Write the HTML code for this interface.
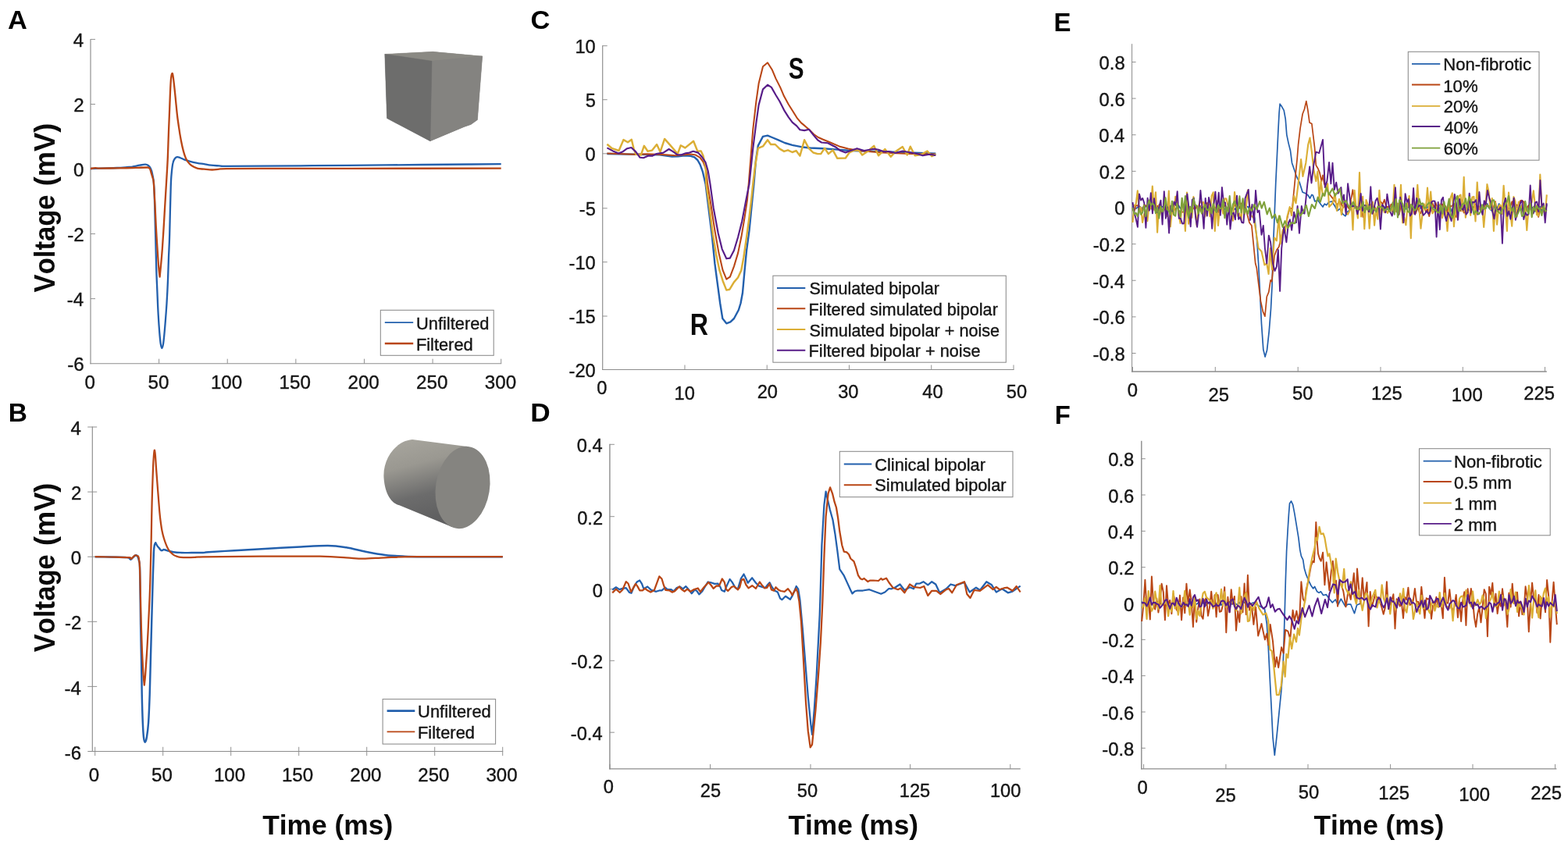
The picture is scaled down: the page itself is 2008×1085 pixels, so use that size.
<!DOCTYPE html>
<html lang="en"><head><meta charset="utf-8"><title>Figure</title>
<style>
html,body{margin:0;padding:0;background:#fff;}
body{width:2008px;height:1085px;overflow:hidden;}
svg{display:block;filter:blur(0.35px);}
text{font-family:"Liberation Sans",Arial,Helvetica,sans-serif;font-kerning:none;}
text.t{stroke:#141414;stroke-width:0.36px;paint-order:stroke;}
</style></head><body>
<svg width="2008" height="1085" viewBox="0 0 2008 1085">
<rect width="2008" height="1085" fill="#ffffff"/>
<line x1="116.00" y1="49.90" x2="116.00" y2="466.25" stroke="#8c8c8c" stroke-width="1.15"/>
<line x1="115.45" y1="465.70" x2="642.20" y2="465.70" stroke="#8c8c8c" stroke-width="1.15"/>
<line x1="116.00" y1="50.40" x2="122.00" y2="50.40" stroke="#8c8c8c" stroke-width="0.95"/>
<text class="t" transform="translate(93.86,60.00) scale(1.0200,1)" font-size="23.7" font-weight="normal" fill="#141414">4</text>
<line x1="116.00" y1="133.46" x2="122.00" y2="133.46" stroke="#8c8c8c" stroke-width="0.95"/>
<text class="t" transform="translate(94.37,143.06) scale(1.0200,1)" font-size="23.7" font-weight="normal" fill="#141414">2</text>
<line x1="116.00" y1="216.52" x2="122.00" y2="216.52" stroke="#8c8c8c" stroke-width="0.95"/>
<text class="t" transform="translate(94.10,226.12) scale(1.0200,1)" font-size="23.7" font-weight="normal" fill="#141414">0</text>
<line x1="116.00" y1="299.58" x2="122.00" y2="299.58" stroke="#8c8c8c" stroke-width="0.95"/>
<text class="t" transform="translate(86.32,309.18) scale(1.0200,1)" font-size="23.7" font-weight="normal" fill="#141414">-2</text>
<line x1="116.00" y1="382.64" x2="122.00" y2="382.64" stroke="#8c8c8c" stroke-width="0.95"/>
<text class="t" transform="translate(85.81,392.24) scale(1.0200,1)" font-size="23.7" font-weight="normal" fill="#141414">-4</text>
<text class="t" transform="translate(86.17,474.90) scale(1.0200,1)" font-size="23.7" font-weight="normal" fill="#141414">-6</text>
<text class="t" transform="translate(108.58,497.80) scale(1.0200,1)" font-size="23.7" font-weight="normal" fill="#141414">0</text>
<line x1="203.62" y1="465.70" x2="203.62" y2="459.70" stroke="#8c8c8c" stroke-width="0.95"/>
<text class="t" transform="translate(189.46,497.80) scale(1.0200,1)" font-size="23.7" font-weight="normal" fill="#141414">50</text>
<line x1="291.23" y1="465.70" x2="291.23" y2="459.70" stroke="#8c8c8c" stroke-width="0.95"/>
<text class="t" transform="translate(269.92,497.80) scale(1.0200,1)" font-size="23.7" font-weight="normal" fill="#141414">100</text>
<line x1="378.85" y1="465.70" x2="378.85" y2="459.70" stroke="#8c8c8c" stroke-width="0.95"/>
<text class="t" transform="translate(357.53,497.80) scale(1.0200,1)" font-size="23.7" font-weight="normal" fill="#141414">150</text>
<line x1="466.47" y1="465.70" x2="466.47" y2="459.70" stroke="#8c8c8c" stroke-width="0.95"/>
<text class="t" transform="translate(445.46,497.80) scale(1.0200,1)" font-size="23.7" font-weight="normal" fill="#141414">200</text>
<line x1="554.08" y1="465.70" x2="554.08" y2="459.70" stroke="#8c8c8c" stroke-width="0.95"/>
<text class="t" transform="translate(533.08,497.80) scale(1.0200,1)" font-size="23.7" font-weight="normal" fill="#141414">250</text>
<line x1="641.70" y1="465.70" x2="641.70" y2="459.70" stroke="#8c8c8c" stroke-width="0.95"/>
<text class="t" transform="translate(620.85,497.80) scale(1.0200,1)" font-size="23.7" font-weight="normal" fill="#141414">300</text>
<path d="M116.0,216.0C118.3,215.9 124.3,215.8 130.0,215.6C135.7,215.4 144.2,215.3 150.0,215.0C155.8,214.7 161.7,214.2 165.0,214.0C168.3,213.8 167.7,213.9 170.0,213.5C172.3,213.1 176.1,212.2 178.8,211.7C181.5,211.2 184.3,210.6 186.2,210.7C188.0,210.8 188.8,211.2 189.9,212.0C191.0,212.8 192.0,213.9 192.9,215.7C193.8,217.5 194.4,218.9 195.1,223.0C195.8,227.1 196.6,227.2 197.3,240.0C198.0,252.8 198.6,282.6 199.1,300.0C199.6,317.4 199.8,331.9 200.2,344.2C200.6,356.5 201.0,363.9 201.4,373.7C201.8,383.5 202.2,394.6 202.7,403.2C203.2,411.8 203.7,419.2 204.2,425.4C204.7,431.5 205.2,436.7 205.7,440.1C206.2,443.5 206.7,446.0 207.3,446.0C207.9,446.0 208.4,444.8 209.1,440.1C209.8,435.4 210.6,426.6 211.3,418.0C212.0,409.4 212.9,398.3 213.5,388.5C214.1,378.7 214.6,368.8 215.0,359.0C215.4,349.2 215.6,339.3 216.0,329.5C216.4,319.7 216.8,314.9 217.2,300.0C217.6,285.1 218.2,253.3 218.7,240.0C219.1,226.7 219.4,225.4 219.9,220.1C220.4,214.8 220.9,211.1 221.6,208.3C222.2,205.5 222.9,204.4 223.8,203.2C224.7,202.0 225.7,201.4 226.8,201.2C227.9,201.0 228.9,201.4 230.5,202.0C232.1,202.6 234.2,203.8 236.4,204.6C238.6,205.4 241.0,206.1 243.7,206.8C246.4,207.5 249.7,208.2 252.6,208.8C255.5,209.4 258.4,209.7 261.4,210.2C264.3,210.7 267.1,211.3 270.3,211.7C273.5,212.1 277.3,212.2 280.6,212.4C283.9,212.6 280.9,212.9 290.0,212.9C299.1,212.9 316.7,212.7 335.0,212.6C353.3,212.5 377.5,212.4 400.0,212.2C422.5,212.0 446.7,211.8 470.0,211.6C493.3,211.4 518.3,211.2 540.0,211.0C561.7,210.8 583.0,210.6 600.0,210.5C617.0,210.4 634.8,210.2 641.7,210.2" fill="none" stroke="#2360ad" stroke-width="2.3" stroke-linejoin="round" stroke-linecap="butt"/>
<path d="M116.0,216.0C117.0,215.9 120.0,215.3 122.0,215.2C124.0,215.1 123.3,215.6 128.0,215.6C132.7,215.6 143.0,215.5 150.0,215.4C157.0,215.3 163.6,215.2 170.0,215.0C176.4,214.8 185.0,214.5 188.4,214.5C191.8,214.5 189.6,214.6 190.2,214.9C190.8,215.2 191.5,215.2 192.1,216.4C192.7,217.6 193.2,220.2 193.8,222.1C194.4,224.0 195.1,226.0 195.6,228.0C196.1,230.0 196.4,228.7 196.8,233.9C197.2,239.1 197.8,249.9 198.3,259.0C198.8,268.1 199.2,278.7 199.7,288.5C200.2,298.3 200.9,309.4 201.5,318.0C202.1,326.6 202.5,334.0 203.0,340.1C203.5,346.2 204.3,352.2 204.6,354.6C204.8,352.2 205.4,346.2 206.0,340.1C206.6,334.0 207.3,326.6 207.9,318.0C208.5,309.4 209.2,298.3 209.8,288.5C210.4,278.7 210.9,268.8 211.5,259.0C212.1,249.2 212.7,239.3 213.3,229.5C213.9,219.7 214.5,210.2 214.9,200.0C215.3,189.8 215.6,178.7 216.0,168.5C216.4,158.3 216.8,148.8 217.2,139.0C217.6,129.2 218.0,116.4 218.4,109.5C218.8,102.6 219.0,100.2 219.4,97.7C219.8,95.2 220.4,93.3 220.9,94.3C221.4,95.3 221.8,98.6 222.4,103.6C223.0,108.6 223.9,117.1 224.6,124.2C225.3,131.3 226.1,140.0 226.8,146.4C227.5,152.8 228.2,156.9 229.0,162.6C229.8,168.2 230.9,175.1 231.9,180.3C232.9,185.5 233.9,189.9 234.9,193.6C235.9,197.3 236.8,200.1 237.8,202.4C238.8,204.7 239.6,206.0 240.8,207.6C242.0,209.2 243.2,210.7 245.2,212.0C247.2,213.3 249.9,214.9 252.6,215.7C255.3,216.5 258.2,216.4 261.4,216.7C264.6,217.0 268.6,217.5 271.8,217.5C275.0,217.5 277.6,216.8 280.6,216.6C283.6,216.4 280.9,216.2 290.0,216.1C299.1,216.0 308.3,215.9 335.0,215.9C361.7,215.9 398.9,215.8 450.0,215.8C501.1,215.8 609.8,215.7 641.7,215.7" fill="none" stroke="#b94615" stroke-width="2.3" stroke-linejoin="round" stroke-linecap="butt"/>
<polygon points="492.8,69.4 554.3,66.3 617.7,72.1 611.4,153.5 603,159.5 594.4,162.4 550.9,180.7 495.6,151.6" fill="#7a7a78"/>
<polygon points="492.8,69.4 554.3,66.3 617.7,72.1 553,78.3" fill="#8a8983" stroke="#8a8983" stroke-width="0.5"/>
<polygon points="553,78.3 617.7,72.1 611.4,153.5 603,159.5 594.4,162.4 550.9,180.7" fill="#848380" stroke="#848380" stroke-width="0.5"/>
<polygon points="492.8,69.4 553,78.3 550.9,180.7 495.6,151.6" fill="#6d6d6c" stroke="#6d6d6c" stroke-width="0.5"/>
<rect x="487.30" y="397.30" width="144.90" height="58.00" fill="#fff" stroke="#8a8a8a" stroke-width="1.05"/>
<line x1="492.80" y1="413.20" x2="529.20" y2="413.20" stroke="#2360ad" stroke-width="1.8"/>
<text class="t" transform="translate(533.01,422.20) scale(1.0304,1)" font-size="21.2" font-weight="normal" fill="#141414">Unfiltered</text>
<line x1="492.80" y1="440.00" x2="529.20" y2="440.00" stroke="#b94615" stroke-width="2.5"/>
<text class="t" transform="translate(532.91,448.60) scale(1.0298,1)" font-size="21.2" font-weight="normal" fill="#141414">Filtered</text>
<text transform="translate(9.94,37.00) scale(1.0127,1)" font-size="34.0" font-weight="bold" fill="#000">A</text>
<text transform="translate(69.90,374.20) rotate(-90)" font-size="36.5" font-weight="bold" fill="#0a0a0a"><tspan x="-0.24" textLength="125.02" lengthAdjust="spacingAndGlyphs">Voltage</tspan> <tspan x="136.00" textLength="80.40" lengthAdjust="spacingAndGlyphs">(mV)</tspan></text>
<line x1="118.30" y1="546.50" x2="118.30" y2="963.00" stroke="#8c8c8c" stroke-width="1.15"/>
<line x1="112.30" y1="962.50" x2="644.20" y2="962.50" stroke="#8c8c8c" stroke-width="1.15"/>
<line x1="112.20" y1="547.00" x2="124.20" y2="547.00" stroke="#8c8c8c" stroke-width="0.95"/>
<text class="t" transform="translate(90.52,557.10) scale(1.0200,1)" font-size="23.6" font-weight="normal" fill="#141414">4</text>
<line x1="112.20" y1="630.10" x2="124.20" y2="630.10" stroke="#8c8c8c" stroke-width="0.95"/>
<text class="t" transform="translate(91.02,640.20) scale(1.0200,1)" font-size="23.6" font-weight="normal" fill="#141414">2</text>
<line x1="112.20" y1="713.20" x2="124.20" y2="713.20" stroke="#8c8c8c" stroke-width="0.95"/>
<text class="t" transform="translate(90.75,723.30) scale(1.0200,1)" font-size="23.6" font-weight="normal" fill="#141414">0</text>
<line x1="112.20" y1="796.30" x2="124.20" y2="796.30" stroke="#8c8c8c" stroke-width="0.95"/>
<text class="t" transform="translate(83.01,806.40) scale(1.0200,1)" font-size="23.6" font-weight="normal" fill="#141414">-2</text>
<line x1="112.20" y1="879.40" x2="124.20" y2="879.40" stroke="#8c8c8c" stroke-width="0.95"/>
<text class="t" transform="translate(82.50,889.50) scale(1.0200,1)" font-size="23.6" font-weight="normal" fill="#141414">-4</text>
<text class="t" transform="translate(82.85,972.60) scale(1.0200,1)" font-size="23.6" font-weight="normal" fill="#141414">-6</text>
<line x1="121.70" y1="956.80" x2="121.70" y2="968.20" stroke="#8c8c8c" stroke-width="0.95"/>
<text class="t" transform="translate(113.81,1000.60) scale(1.0200,1)" font-size="23.6" font-weight="normal" fill="#141414">0</text>
<line x1="208.70" y1="956.80" x2="208.70" y2="968.20" stroke="#8c8c8c" stroke-width="0.95"/>
<text class="t" transform="translate(194.10,1000.60) scale(1.0200,1)" font-size="23.6" font-weight="normal" fill="#141414">50</text>
<line x1="295.70" y1="956.80" x2="295.70" y2="968.20" stroke="#8c8c8c" stroke-width="0.95"/>
<text class="t" transform="translate(273.97,1000.60) scale(1.0200,1)" font-size="23.6" font-weight="normal" fill="#141414">100</text>
<line x1="382.70" y1="956.80" x2="382.70" y2="968.20" stroke="#8c8c8c" stroke-width="0.95"/>
<text class="t" transform="translate(360.97,1000.60) scale(1.0200,1)" font-size="23.6" font-weight="normal" fill="#141414">150</text>
<line x1="469.70" y1="956.80" x2="469.70" y2="968.20" stroke="#8c8c8c" stroke-width="0.95"/>
<text class="t" transform="translate(448.28,1000.60) scale(1.0200,1)" font-size="23.6" font-weight="normal" fill="#141414">200</text>
<line x1="556.70" y1="956.80" x2="556.70" y2="968.20" stroke="#8c8c8c" stroke-width="0.95"/>
<text class="t" transform="translate(535.28,1000.60) scale(1.0200,1)" font-size="23.6" font-weight="normal" fill="#141414">250</text>
<line x1="643.70" y1="956.80" x2="643.70" y2="968.20" stroke="#8c8c8c" stroke-width="0.95"/>
<text class="t" transform="translate(622.43,1000.60) scale(1.0200,1)" font-size="23.6" font-weight="normal" fill="#141414">300</text>
<path d="M121.7,713.2C124.8,713.2 133.6,713.4 140.0,713.5C146.4,713.6 155.8,713.8 160.0,714.0C164.2,714.2 163.8,714.0 165.0,714.5C166.2,715.0 166.4,716.8 167.3,716.7C168.2,716.7 169.2,715.1 170.2,714.2C171.2,713.3 172.2,711.8 173.2,711.5C174.2,711.2 175.3,711.2 176.1,712.5C176.9,713.8 177.6,716.1 178.1,719.0C178.6,721.9 178.8,716.5 179.1,730.0C179.4,743.5 179.8,781.0 180.1,800.0C180.4,819.0 180.7,829.5 181.0,844.2C181.3,859.0 181.4,875.0 181.7,888.5C182.0,902.0 182.4,916.1 182.8,925.4C183.2,934.7 183.5,940.3 184.0,944.5C184.5,948.7 185.0,950.7 185.7,950.7C186.3,950.7 187.2,948.7 187.9,944.5C188.6,940.3 189.5,934.5 190.1,925.4C190.7,916.3 191.2,904.4 191.7,889.7C192.2,875.0 192.6,855.2 193.1,837.2C193.6,819.2 194.1,798.9 194.6,782.0C195.1,765.1 195.5,748.4 195.9,736.0C196.3,723.6 196.6,713.9 196.9,707.6C197.2,701.3 197.4,700.5 197.8,698.4C198.2,696.3 199.0,695.7 199.2,695.2C199.6,695.9 200.7,698.2 201.5,699.4C202.3,700.5 203.0,701.2 203.8,702.1C204.6,703.0 205.5,704.4 206.1,704.9C206.7,705.4 206.9,705.2 207.5,705.1C208.1,705.0 208.9,704.0 209.8,704.0C210.7,704.0 211.7,704.5 213.0,704.9C214.3,705.3 216.0,705.9 217.6,706.3C219.2,706.7 220.0,706.9 222.3,707.2C224.6,707.5 228.4,707.8 231.5,707.9C234.6,708.0 237.6,708.1 240.7,708.1C243.8,708.1 246.7,708.0 249.9,708.0C253.1,708.0 257.2,708.1 260.0,708.0C262.8,707.9 260.0,707.8 266.7,707.3C273.4,706.8 288.6,705.9 300.0,705.2C311.4,704.5 321.7,703.9 335.0,703.2C348.3,702.5 365.8,701.5 380.0,700.8C394.2,700.1 409.4,698.9 420.0,699.0C430.6,699.1 435.2,700.0 443.3,701.3C451.4,702.6 460.0,705.2 468.3,706.8C476.6,708.4 485.0,710.0 493.3,711.0C501.6,712.0 509.7,712.3 518.3,712.7C526.9,713.1 531.4,713.1 545.0,713.2C558.6,713.3 583.5,713.2 600.0,713.2C616.5,713.2 636.5,713.2 643.8,713.2" fill="none" stroke="#2360ad" stroke-width="2.45" stroke-linejoin="round" stroke-linecap="butt"/>
<path d="M121.7,713.2C124.8,713.2 132.8,713.3 140.0,713.5C147.2,713.7 160.4,713.8 165.1,714.2C169.8,714.6 167.2,716.1 168.0,716.0C168.8,715.9 169.3,714.6 170.2,713.8C171.1,713.0 172.2,711.5 173.2,711.3C174.2,711.0 175.4,711.9 176.1,712.3C176.8,712.7 177.0,711.5 177.5,713.9C178.0,716.3 178.6,718.5 179.0,726.8C179.4,735.1 179.6,751.3 179.9,763.6C180.2,775.9 180.4,788.1 180.8,800.4C181.2,812.7 181.6,826.5 182.1,837.2C182.6,847.9 183.1,858.0 183.6,864.8C184.1,871.5 184.6,875.6 184.8,877.7C185.0,875.6 185.6,871.5 186.1,864.8C186.6,858.0 187.3,847.9 188.0,837.2C188.7,826.5 189.4,812.7 190.0,800.4C190.6,788.1 191.2,775.9 191.7,763.6C192.2,751.3 192.5,739.1 192.8,726.8C193.1,714.5 193.4,703.9 193.7,690.0C194.0,676.1 194.2,658.8 194.6,643.7C195.0,628.6 195.6,609.8 196.0,599.5C196.4,589.2 196.8,585.6 197.1,581.8C197.4,578.0 197.7,576.4 198.0,576.6C198.3,576.9 198.5,579.0 198.9,583.3C199.3,587.6 199.6,594.8 200.2,602.4C200.8,610.0 201.5,620.3 202.2,629.0C202.9,637.7 203.6,647.6 204.2,654.5C204.8,661.4 205.4,666.2 206.0,670.5C206.6,674.8 206.9,676.9 207.5,680.0C208.1,683.1 208.9,686.1 209.8,689.2C210.7,692.3 212.0,695.9 213.0,698.4C214.0,700.9 214.9,702.5 215.8,704.0C216.7,705.5 217.5,706.5 218.6,707.6C219.7,708.8 220.9,710.0 222.3,710.9C223.7,711.8 225.4,712.4 226.9,712.9C228.4,713.4 229.2,713.7 231.5,713.9C233.8,714.1 237.6,714.1 240.7,714.1C243.8,714.1 246.7,714.0 249.9,713.9C253.1,713.8 245.8,713.5 260.0,713.3C274.2,713.1 310.0,712.8 335.0,712.7C360.0,712.6 391.9,712.4 410.0,712.7C428.1,713.0 434.1,713.8 443.3,714.3C452.5,714.8 456.7,715.7 465.0,715.7C473.3,715.7 483.0,714.7 493.3,714.3C503.6,713.9 508.9,713.4 526.7,713.2C544.5,713.0 580.5,713.2 600.0,713.2C619.5,713.2 636.5,713.2 643.8,713.2" fill="none" stroke="#b94615" stroke-width="2.25" stroke-linejoin="round" stroke-linecap="butt"/>
<defs><linearGradient id="cg" x1="0" y1="0" x2="0.25" y2="1"><stop offset="0" stop-color="#a9a79f"/><stop offset="0.35" stop-color="#9a9891"/><stop offset="0.7" stop-color="#6c6c6c"/><stop offset="1" stop-color="#5f5f60"/></linearGradient></defs>
<path d="M528,563 C506,565 490,588 491.5,612 C493,634 502,645 511.5,647.3 L578.8,675.1 L592,625 L600.1,572.3 Z" fill="url(#cg)"/>
<ellipse cx="592.5" cy="624.5" rx="34.5" ry="53" transform="rotate(9 592.5 624.5)" fill="#858480"/>
<rect x="490.10" y="895.60" width="144.50" height="57.50" fill="#fff" stroke="#8a8a8a" stroke-width="1.05"/>
<line x1="495.60" y1="910.70" x2="531.30" y2="910.70" stroke="#2360ad" stroke-width="2.7"/>
<text class="t" transform="translate(535.11,919.30) scale(1.0327,1)" font-size="21.2" font-weight="normal" fill="#141414">Unfiltered</text>
<line x1="495.60" y1="937.40" x2="531.30" y2="937.40" stroke="#b94615" stroke-width="1.8"/>
<text class="t" transform="translate(535.00,946.00) scale(1.0328,1)" font-size="21.2" font-weight="normal" fill="#141414">Filtered</text>
<text transform="translate(10.76,540.00) scale(0.9838,1)" font-size="34.0" font-weight="bold" fill="#000">B</text>
<text transform="translate(69.90,835.00) rotate(-90)" font-size="36.5" font-weight="bold" fill="#0a0a0a"><tspan x="-0.24" textLength="125.02" lengthAdjust="spacingAndGlyphs">Voltage</tspan> <tspan x="136.00" textLength="80.40" lengthAdjust="spacingAndGlyphs">(mV)</tspan></text>
<text transform="translate(336.20,1069.20) scale(1.0048,1)" font-size="35.2" font-weight="bold" fill="#0a0a0a">Time (ms)</text>
<line x1="771.70" y1="58.20" x2="771.70" y2="474.05" stroke="#8c8c8c" stroke-width="1.15"/>
<line x1="771.15" y1="473.50" x2="1298.50" y2="473.50" stroke="#8c8c8c" stroke-width="1.15"/>
<line x1="771.70" y1="58.70" x2="777.70" y2="58.70" stroke="#8c8c8c" stroke-width="0.95"/>
<text class="t" transform="translate(736.40,68.00) scale(1.0200,1)" font-size="23.2" font-weight="normal" fill="#141414">10</text>
<line x1="771.70" y1="127.70" x2="777.70" y2="127.70" stroke="#8c8c8c" stroke-width="0.95"/>
<text class="t" transform="translate(749.63,137.00) scale(1.0200,1)" font-size="23.2" font-weight="normal" fill="#141414">5</text>
<line x1="771.70" y1="196.80" x2="777.70" y2="196.80" stroke="#8c8c8c" stroke-width="0.95"/>
<text class="t" transform="translate(749.56,206.10) scale(1.0200,1)" font-size="23.2" font-weight="normal" fill="#141414">0</text>
<line x1="771.70" y1="266.80" x2="777.70" y2="266.80" stroke="#8c8c8c" stroke-width="0.95"/>
<text class="t" transform="translate(741.75,276.10) scale(1.0200,1)" font-size="23.2" font-weight="normal" fill="#141414">-5</text>
<line x1="771.70" y1="335.70" x2="777.70" y2="335.70" stroke="#8c8c8c" stroke-width="0.95"/>
<text class="t" transform="translate(728.52,345.00) scale(1.0200,1)" font-size="23.2" font-weight="normal" fill="#141414">-10</text>
<line x1="771.70" y1="405.00" x2="777.70" y2="405.00" stroke="#8c8c8c" stroke-width="0.95"/>
<text class="t" transform="translate(728.59,414.30) scale(1.0200,1)" font-size="23.2" font-weight="normal" fill="#141414">-15</text>
<text class="t" transform="translate(728.52,482.80) scale(1.0200,1)" font-size="23.2" font-weight="normal" fill="#141414">-20</text>
<text class="t" transform="translate(764.22,505.30) scale(1.0200,1)" font-size="23.2" font-weight="normal" fill="#141414">0</text>
<line x1="876.96" y1="473.50" x2="876.96" y2="467.50" stroke="#8c8c8c" stroke-width="0.95"/>
<text class="t" transform="translate(863.60,512.00) scale(1.0200,1)" font-size="23.2" font-weight="normal" fill="#141414">10</text>
<line x1="982.22" y1="473.50" x2="982.22" y2="467.50" stroke="#8c8c8c" stroke-width="0.95"/>
<text class="t" transform="translate(969.71,510.00) scale(1.0200,1)" font-size="23.2" font-weight="normal" fill="#141414">20</text>
<line x1="1087.48" y1="473.50" x2="1087.48" y2="467.50" stroke="#8c8c8c" stroke-width="0.95"/>
<text class="t" transform="translate(1073.15,510.00) scale(1.0200,1)" font-size="23.2" font-weight="normal" fill="#141414">30</text>
<line x1="1192.74" y1="473.50" x2="1192.74" y2="467.50" stroke="#8c8c8c" stroke-width="0.95"/>
<text class="t" transform="translate(1181.23,510.00) scale(1.0200,1)" font-size="23.2" font-weight="normal" fill="#141414">40</text>
<line x1="1298.00" y1="473.50" x2="1298.00" y2="467.50" stroke="#8c8c8c" stroke-width="0.95"/>
<text class="t" transform="translate(1288.83,510.00) scale(1.0200,1)" font-size="23.2" font-weight="normal" fill="#141414">50</text>
<polyline points="777.4,197.0 844.7,198.4 860.6,200.6 868.6,200.2 876.6,199.2 884.5,199.8 889.3,201.4 893.3,205.0 896.5,210.6 899.7,219.3 903.6,236.0 907.8,269.9 912.0,303.8 915.4,337.7 918.8,363.1 922.2,388.5 925.3,408.0 930.3,414.3 935.4,412.3 940.0,408.0 945.9,397.0 948.5,388.5 951.0,375.0 953.6,346.2 956.1,320.7 959.5,295.3 962.0,269.9 965.4,236.0 968.0,205.0 970.8,186.6 977.0,174.9 983.0,173.6 988.7,176.0 996.8,179.3 1004.9,183.0 1014.6,185.8 1026.0,188.2 1037.4,189.5 1053.6,190.3 1069.8,191.4 1086.0,192.7 1100.0,193.2 1150.0,195.0 1198.3,196.6" fill="none" stroke="#2360ad" stroke-width="2.4" stroke-linejoin="round" stroke-linecap="butt"/>
<polyline points="777.4,196.6 812.8,197.7 828.7,197.2 852.6,198.2 864.6,199.2 876.6,198.2 884.5,197.6 890.9,198.6 896.5,201.8 900.5,207.4 904.4,217.7 906.1,236.0 910.3,261.4 915.4,295.3 920.5,324.1 925.6,346.2 930.3,357.7 934.9,354.6 940.0,341.1 945.1,324.1 949.3,303.8 953.6,278.4 956.9,256.3 958.7,236.0 961.1,206.0 964.3,165.5 968.4,129.8 971.6,107.1 977.0,85.2 983.0,80.3 988.7,89.2 993.5,100.6 999.2,111.9 1004.1,123.3 1009.8,133.8 1015.5,142.8 1021.1,151.7 1026.0,157.4 1030.9,161.4 1036.5,166.3 1042.2,172.0 1047.9,176.0 1053.6,178.5 1063.3,182.5 1074.7,187.4 1086.0,190.6 1100.0,193.1 1130.0,195.5 1165.0,197.0 1198.3,197.5" fill="none" stroke="#b94615" stroke-width="2.05" stroke-linejoin="round" stroke-linecap="butt"/>
<polyline points="777.4,184.7 783.3,189.8 792.5,193.0 798.5,179.1 804.0,182.3 808.8,178.8 811.6,190.6 814.4,197.8 820.8,198.6 824.8,186.8 829.5,193.8 835.1,192.6 841.1,185.1 845.5,194.6 851.1,177.9 858.2,185.9 867.8,197.0 871.8,186.3 877.4,189.4 888.1,180.7 893.3,193.8 897.7,193.4 900.5,199.4 903.6,213.7 904.4,236.0 908.6,266.5 912.9,300.4 917.1,325.8 921.4,346.2 925.6,359.7 930.3,371.6 934.4,370.7 940.0,361.4 945.1,355.5 949.3,346.2 952.4,329.2 956.1,303.8 959.5,278.4 962.5,252.9 964.3,236.0 966.8,214.2 970.8,189.8 977.0,187.4 983.0,179.3 987.1,185.0 992.7,185.0 998.4,190.6 1004.1,193.9 1009.0,192.3 1014.6,195.0 1019.5,193.1 1024.4,199.6 1030.1,179.3 1035.7,189.8 1041.4,195.5 1047.1,197.1 1051.2,197.1 1056.0,189.8 1060.9,197.1 1066.6,192.3 1072.3,202.8 1082.8,202.5 1087.7,195.5 1094.2,192.3 1100.0,192.7 1104.2,198.5 1111.7,193.5 1119.2,186.8 1125.0,199.3 1133.3,191.0 1140.8,200.7 1146.7,194.3 1155.8,188.0 1161.7,198.5 1165.8,187.7 1171.7,199.3 1180.0,197.7 1187.5,193.5 1193.3,200.2 1198.3,197.7" fill="none" stroke="#dbae35" stroke-width="2.45" stroke-linejoin="round" stroke-linecap="butt"/>
<polyline points="777.4,189.4 784.9,193.4 792.1,196.5 797.7,194.2 803.2,190.2 808.4,189.0 814.4,194.6 819.6,201.8 824.0,202.2 830.3,199.4 835.1,199.8 840.7,197.0 849.5,195.6 856.6,191.0 861.8,194.2 867.4,198.2 872.6,198.2 878.1,196.2 882.9,195.6 887.7,193.8 894.1,195.6 898.9,201.0 903.6,208.2 906.8,219.3 909.5,236.0 913.7,266.5 919.7,298.7 924.7,319.1 930.3,331.3 934.9,330.6 940.0,320.7 945.1,303.8 950.2,283.5 954.4,261.4 958.6,240.0 959.5,236.0 964.3,189.8 968.4,157.4 971.6,134.6 977.0,114.4 983.0,108.7 987.9,111.9 993.5,121.7 998.4,129.8 1004.1,141.1 1009.8,150.1 1014.6,156.6 1020.3,161.4 1024.4,166.3 1030.1,167.1 1036.1,165.8 1042.2,173.6 1047.1,179.3 1052.0,182.5 1060.1,183.3 1069.8,188.2 1076.3,193.1 1082.8,195.5 1089.3,193.1 1097.5,190.2 1106.7,193.0 1119.2,190.7 1125.0,191.8 1131.7,194.3 1138.3,194.0 1146.7,196.0 1155.8,193.5 1165.0,195.2 1173.3,196.8 1181.7,199.3 1190.0,197.7 1198.3,199.0" fill="none" stroke="#571c88" stroke-width="2.15" stroke-linejoin="round" stroke-linecap="butt"/>
<rect x="989.90" y="353.20" width="298.40" height="111.00" fill="#fff" stroke="#8a8a8a" stroke-width="1.05"/>
<line x1="995.00" y1="369.00" x2="1031.30" y2="369.00" stroke="#2360ad" stroke-width="2.0"/>
<text class="t" transform="translate(1036.42,377.30) scale(1.0167,1)" font-size="21.2" font-weight="normal" fill="#141414">Simulated bipolar</text>
<line x1="995.00" y1="395.30" x2="1031.30" y2="395.30" stroke="#b94615" stroke-width="2.0"/>
<text class="t" transform="translate(1035.62,404.00) scale(1.0232,1)" font-size="21.2" font-weight="normal" fill="#141414">Filtered simulated bipolar</text>
<line x1="995.00" y1="422.00" x2="1031.30" y2="422.00" stroke="#dbae35" stroke-width="2.0"/>
<text class="t" transform="translate(1036.42,430.70) scale(1.0218,1)" font-size="21.2" font-weight="normal" fill="#141414">Simulated bipolar + noise</text>
<line x1="995.00" y1="448.70" x2="1031.30" y2="448.70" stroke="#571c88" stroke-width="2.0"/>
<text class="t" transform="translate(1035.62,457.30) scale(1.0227,1)" font-size="21.2" font-weight="normal" fill="#141414">Filtered bipolar + noise</text>
<text transform="translate(679.39,37.30) scale(1.0122,1)" font-size="34.0" font-weight="bold" fill="#000">C</text>
<text transform="translate(883.75,428.90) scale(0.8413,1)" font-size="38.2" font-weight="bold" fill="#0a0a0a">R</text>
<text transform="translate(1009.64,101.20) scale(0.7818,1)" font-size="38.0" font-weight="bold" fill="#0a0a0a">S</text>
<line x1="780.90" y1="568.80" x2="780.90" y2="985.50" stroke="#8c8c8c" stroke-width="1.4"/>
<line x1="780.20" y1="984.90" x2="1306.80" y2="984.90" stroke="#8c8c8c" stroke-width="1.15"/>
<line x1="780.90" y1="569.30" x2="786.90" y2="569.30" stroke="#8c8c8c" stroke-width="0.95"/>
<text class="t" transform="translate(738.70,579.10) scale(1.0200,1)" font-size="23.2" font-weight="normal" fill="#141414">0.4</text>
<line x1="780.90" y1="661.70" x2="786.90" y2="661.70" stroke="#8c8c8c" stroke-width="0.95"/>
<text class="t" transform="translate(739.19,671.50) scale(1.0200,1)" font-size="23.2" font-weight="normal" fill="#141414">0.2</text>
<line x1="780.90" y1="754.70" x2="786.90" y2="754.70" stroke="#8c8c8c" stroke-width="0.95"/>
<text class="t" transform="translate(758.66,764.50) scale(1.0200,1)" font-size="23.2" font-weight="normal" fill="#141414">0</text>
<line x1="780.90" y1="846.30" x2="786.90" y2="846.30" stroke="#8c8c8c" stroke-width="0.95"/>
<text class="t" transform="translate(731.31,856.10) scale(1.0200,1)" font-size="23.2" font-weight="normal" fill="#141414">-0.2</text>
<line x1="780.90" y1="938.20" x2="786.90" y2="938.20" stroke="#8c8c8c" stroke-width="0.95"/>
<text class="t" transform="translate(730.82,948.00) scale(1.0200,1)" font-size="23.2" font-weight="normal" fill="#141414">-0.4</text>
<line x1="781.00" y1="984.90" x2="781.00" y2="978.90" stroke="#8c8c8c" stroke-width="0.95"/>
<text class="t" transform="translate(772.82,1016.00) scale(1.0200,1)" font-size="23.2" font-weight="normal" fill="#141414">0</text>
<line x1="909.50" y1="984.90" x2="909.50" y2="978.90" stroke="#8c8c8c" stroke-width="0.95"/>
<text class="t" transform="translate(896.74,1021.20) scale(1.0200,1)" font-size="23.2" font-weight="normal" fill="#141414">25</text>
<line x1="1038.00" y1="984.90" x2="1038.00" y2="978.90" stroke="#8c8c8c" stroke-width="0.95"/>
<text class="t" transform="translate(1020.73,1021.20) scale(1.0200,1)" font-size="23.2" font-weight="normal" fill="#141414">50</text>
<line x1="1165.60" y1="984.90" x2="1165.60" y2="978.90" stroke="#8c8c8c" stroke-width="0.95"/>
<text class="t" transform="translate(1151.75,1021.20) scale(1.0200,1)" font-size="23.2" font-weight="normal" fill="#141414">125</text>
<line x1="1293.80" y1="984.90" x2="1293.80" y2="978.90" stroke="#8c8c8c" stroke-width="0.95"/>
<text class="t" transform="translate(1267.92,1021.20) scale(1.0200,1)" font-size="23.2" font-weight="normal" fill="#141414">100</text>
<polyline points="784.2,755.5 788.9,752.3 793.3,755.1 797.3,753.9 801.7,753.1 806.1,759.0 808.5,759.8 811.7,751.9 815.6,745.5 819.2,743.5 822.0,747.9 824.4,754.3 829.2,751.5 834.0,755.9 840.3,757.8 845.1,756.3 847.5,756.3 851.9,752.7 854.7,755.1 859.5,755.1 862.6,757.5 866.6,753.1 870.6,751.5 874.6,754.3 878.2,751.1 881.8,755.1 885.8,760.2 889.7,755.5 892.1,756.7 895.3,761.4 899.3,757.5 906.5,745.5 910.5,746.3 915.2,747.9 919.2,747.5 922.4,751.9 924.0,755.9 927.8,757.8 930.6,750.6 934.6,741.9 937.7,745.9 941.7,753.0 944.9,754.6 948.9,741.1 952.5,735.5 955.7,741.9 957.7,746.7 963.2,740.3 968.0,746.7 972.0,750.6 976.0,751.8 980.0,753.0 982.4,749.8 985.6,746.3 988.7,752.2 991.9,756.6 995.9,758.6 999.1,766.6 1001.5,768.2 1005.9,763.8 1011.9,767.8 1015.0,762.6 1019.8,751.0 1022.2,754.6 1024.0,765.8 1024.6,770.0 1027.8,805.0 1031.3,848.8 1034.8,892.6 1038.3,927.6 1040.0,940.8 1042.7,910.1 1045.6,866.3 1047.9,822.5 1049.7,787.5 1050.3,770.0 1052.4,698.5 1055.4,646.9 1057.6,629.6 1059.8,639.5 1062.8,652.8 1066.5,666.0 1069.4,683.7 1072.4,705.9 1075.3,729.2 1080.5,736.8 1085.6,747.9 1089.3,756.0 1091.5,760.4 1094.5,757.5 1098.2,756.5 1105.0,756.5 1113.3,755.2 1120.0,757.7 1128.3,760.7 1133.3,758.5 1138.3,754.0 1141.7,754.3 1146.7,752.3 1152.5,748.5 1158.3,756.0 1165.0,752.3 1170.0,754.3 1173.3,747.7 1178.3,747.3 1182.5,745.2 1188.3,749.3 1193.3,745.2 1198.3,748.5 1203.3,759.3 1211.7,754.3 1217.5,748.5 1223.3,750.2 1235.0,746.0 1241.7,758.5 1250.0,752.7 1255.0,756.0 1263.3,745.2 1270.0,749.3 1275.8,758.5 1283.3,754.3 1290.8,759.3 1296.7,757.7 1306.7,750.7" fill="none" stroke="#2360ad" stroke-width="2.25" stroke-linejoin="round" stroke-linecap="butt"/>
<polyline points="784.2,759.4 788.9,754.7 793.7,759.0 797.3,755.5 801.7,745.1 804.5,747.5 808.1,758.2 814.0,747.9 816.4,751.1 819.2,756.3 822.8,756.3 826.0,753.9 829.2,756.3 833.2,758.6 837.9,755.9 841.1,747.1 844.3,738.3 847.5,741.5 849.9,749.5 852.3,755.9 857.1,756.3 860.7,758.6 864.2,757.1 869.8,751.5 873.0,755.1 876.6,757.5 880.2,754.7 884.2,757.8 888.9,755.1 893.7,753.5 896.9,758.2 901.7,751.9 907.3,745.9 910.5,749.5 913.6,753.9 917.6,750.3 920.8,750.7 924.8,741.5 927.8,745.9 929.8,754.6 932.2,757.0 937.0,751.8 940.1,751.0 944.9,755.4 947.3,752.2 949.7,742.7 952.5,741.9 955.3,749.0 958.5,753.4 963.2,750.2 968.0,753.8 972.8,745.5 976.0,749.8 979.2,753.4 982.0,753.0 985.6,747.8 987.9,755.4 991.1,756.6 993.5,752.2 996.7,755.4 999.9,757.0 1004.7,757.8 1009.1,754.2 1012.6,758.6 1014.6,762.6 1016.6,758.6 1019.4,754.2 1021.4,758.6 1022.6,765.8 1023.4,770.0 1026.0,796.3 1028.6,840.0 1032.1,901.3 1034.8,936.4 1037.7,957.4 1040.0,953.9 1044.4,910.1 1047.9,866.3 1050.9,822.5 1052.6,787.5 1053.4,770.0 1055.4,713.2 1057.6,661.6 1060.6,632.1 1063.1,624.3 1066.0,632.1 1068.7,643.2 1070.9,649.8 1073.1,663.1 1075.3,680.8 1078.3,698.5 1080.8,706.6 1084.2,707.3 1087.1,710.3 1089.3,715.5 1093.5,719.1 1096.0,726.5 1098.9,736.8 1101.9,741.3 1104.1,742.3 1106.7,741.0 1108.5,742.7 1111.4,745.0 1114.4,743.5 1118.3,743.5 1125.0,744.0 1128.3,741.0 1130.0,742.7 1135.0,740.7 1138.3,746.0 1143.3,752.7 1150.0,755.2 1153.3,753.5 1158.3,759.3 1165.0,748.5 1170.0,751.8 1178.3,753.0 1183.3,751.0 1188.3,763.0 1193.3,756.8 1199.2,756.8 1204.2,761.0 1211.7,755.2 1215.0,754.0 1219.2,759.3 1225.0,749.3 1235.0,745.2 1238.3,761.0 1242.5,766.0 1247.5,756.0 1255.0,756.8 1265.0,749.3 1271.7,755.2 1275.8,751.8 1280.0,755.2 1286.7,753.0 1290.0,752.7 1296.7,756.8 1301.7,751.0 1306.7,758.5" fill="none" stroke="#b94615" stroke-width="2.25" stroke-linejoin="round" stroke-linecap="butt"/>
<rect x="1075.30" y="578.30" width="221.70" height="58.40" fill="#fff" stroke="#8a8a8a" stroke-width="1.05"/>
<line x1="1080.80" y1="594.50" x2="1116.30" y2="594.50" stroke="#2360ad" stroke-width="2.0"/>
<text class="t" transform="translate(1120.19,602.50) scale(1.0291,1)" font-size="21.2" font-weight="normal" fill="#141414">Clinical bipolar</text>
<line x1="1080.80" y1="621.20" x2="1116.30" y2="621.20" stroke="#b94615" stroke-width="2.0"/>
<text class="t" transform="translate(1120.31,629.20) scale(1.0278,1)" font-size="21.2" font-weight="normal" fill="#141414">Simulated bipolar</text>
<text transform="translate(679.34,540.00) scale(1.0359,1)" font-size="34.0" font-weight="bold" fill="#000">D</text>
<text transform="translate(1009.50,1069.00) scale(1.0018,1)" font-size="35.2" font-weight="bold" fill="#0a0a0a">Time (ms)</text>
<line x1="1449.60" y1="56.20" x2="1449.60" y2="476.60" stroke="#8c8c8c" stroke-width="1.0"/>
<line x1="1449.10" y1="476.00" x2="1980.80" y2="476.00" stroke="#8c8c8c" stroke-width="1.3"/>
<line x1="1449.60" y1="79.48" x2="1454.60" y2="79.48" stroke="#8c8c8c" stroke-width="0.95"/>
<text class="t" transform="translate(1407.56,88.88) scale(1.0200,1)" font-size="23.4" font-weight="normal" fill="#141414">0.8</text>
<line x1="1449.60" y1="126.11" x2="1454.60" y2="126.11" stroke="#8c8c8c" stroke-width="0.95"/>
<text class="t" transform="translate(1407.57,135.51) scale(1.0200,1)" font-size="23.4" font-weight="normal" fill="#141414">0.6</text>
<line x1="1449.60" y1="172.74" x2="1454.60" y2="172.74" stroke="#8c8c8c" stroke-width="0.95"/>
<text class="t" transform="translate(1407.22,182.14) scale(1.0200,1)" font-size="23.4" font-weight="normal" fill="#141414">0.4</text>
<line x1="1449.60" y1="219.37" x2="1454.60" y2="219.37" stroke="#8c8c8c" stroke-width="0.95"/>
<text class="t" transform="translate(1407.72,228.77) scale(1.0200,1)" font-size="23.4" font-weight="normal" fill="#141414">0.2</text>
<line x1="1449.60" y1="266.00" x2="1454.60" y2="266.00" stroke="#8c8c8c" stroke-width="0.95"/>
<text class="t" transform="translate(1427.36,275.40) scale(1.0200,1)" font-size="23.4" font-weight="normal" fill="#141414">0</text>
<line x1="1449.60" y1="312.63" x2="1454.60" y2="312.63" stroke="#8c8c8c" stroke-width="0.95"/>
<text class="t" transform="translate(1399.77,322.03) scale(1.0200,1)" font-size="23.4" font-weight="normal" fill="#141414">-0.2</text>
<line x1="1449.60" y1="359.26" x2="1454.60" y2="359.26" stroke="#8c8c8c" stroke-width="0.95"/>
<text class="t" transform="translate(1399.27,368.66) scale(1.0200,1)" font-size="23.4" font-weight="normal" fill="#141414">-0.4</text>
<line x1="1449.60" y1="405.89" x2="1454.60" y2="405.89" stroke="#8c8c8c" stroke-width="0.95"/>
<text class="t" transform="translate(1399.62,415.29) scale(1.0200,1)" font-size="23.4" font-weight="normal" fill="#141414">-0.6</text>
<line x1="1449.60" y1="452.52" x2="1454.60" y2="452.52" stroke="#8c8c8c" stroke-width="0.95"/>
<text class="t" transform="translate(1399.61,461.92) scale(1.0200,1)" font-size="23.4" font-weight="normal" fill="#141414">-0.8</text>
<line x1="1450.50" y1="476.00" x2="1450.50" y2="470.00" stroke="#8c8c8c" stroke-width="0.95"/>
<text class="t" transform="translate(1443.86,507.80) scale(1.0200,1)" font-size="23.4" font-weight="normal" fill="#141414">0</text>
<line x1="1556.30" y1="476.00" x2="1556.30" y2="470.00" stroke="#8c8c8c" stroke-width="0.95"/>
<text class="t" transform="translate(1547.43,514.00) scale(1.0200,1)" font-size="23.4" font-weight="normal" fill="#141414">25</text>
<line x1="1662.20" y1="476.00" x2="1662.20" y2="470.00" stroke="#8c8c8c" stroke-width="0.95"/>
<text class="t" transform="translate(1654.91,512.00) scale(1.0200,1)" font-size="23.4" font-weight="normal" fill="#141414">50</text>
<line x1="1768.00" y1="476.00" x2="1768.00" y2="470.00" stroke="#8c8c8c" stroke-width="0.95"/>
<text class="t" transform="translate(1755.98,512.00) scale(1.0200,1)" font-size="23.4" font-weight="normal" fill="#141414">125</text>
<line x1="1873.30" y1="476.00" x2="1873.30" y2="470.00" stroke="#8c8c8c" stroke-width="0.95"/>
<text class="t" transform="translate(1858.85,514.00) scale(1.0200,1)" font-size="23.4" font-weight="normal" fill="#141414">100</text>
<line x1="1978.50" y1="476.00" x2="1978.50" y2="470.00" stroke="#8c8c8c" stroke-width="0.95"/>
<text class="t" transform="translate(1951.29,512.00) scale(1.0200,1)" font-size="23.4" font-weight="normal" fill="#141414">225</text>
<polyline points="1450.5,264.2 1452.6,266.6 1454.7,267.5 1456.8,265.2 1458.9,264.0 1461.0,265.9 1463.1,266.7 1465.2,267.6 1467.3,264.2 1469.4,264.1 1471.6,267.1 1473.7,266.7 1475.8,268.3 1477.9,267.5 1480.0,265.8 1482.1,265.6 1484.2,269.9 1486.3,265.6 1488.4,264.8 1490.5,264.3 1492.6,266.1 1494.7,266.2 1496.8,265.5 1498.9,265.9 1501.0,266.4 1503.1,267.0 1505.2,267.6 1507.3,266.3 1509.5,263.3 1511.6,267.1 1513.7,263.9 1515.8,265.7 1517.9,263.8 1520.0,266.0 1522.1,264.8 1524.2,266.3 1526.3,271.0 1528.4,265.9 1530.5,267.3 1532.6,264.0 1534.7,265.6 1536.8,267.0 1538.9,265.9 1541.0,266.6 1543.1,266.2 1545.2,264.5 1547.4,266.8 1549.5,264.8 1551.6,268.8 1553.7,265.2 1555.8,267.0 1557.9,266.0 1560.0,267.4 1562.1,265.1 1564.2,267.5 1566.3,265.8 1568.4,267.9 1570.5,266.9 1572.6,266.2 1574.7,264.8 1576.8,267.2 1578.9,266.7 1581.0,268.5 1583.1,265.4 1585.3,266.8 1587.4,266.8 1589.5,266.4 1591.6,266.3 1593.7,266.3 1595.8,265.1 1597.9,264.5 1600.0,268.0 1603.0,265.0 1606.8,279.4 1609.7,308.4 1611.6,337.5 1613.6,376.2 1615.5,414.9 1617.8,447.8 1620.1,457.1 1622.5,448.8 1625.2,424.6 1627.5,395.6 1629.0,366.5 1630.4,318.1 1632.0,279.4 1633.7,235.3 1635.2,204.0 1636.8,169.5 1638.1,144.5 1639.1,133.2 1641.5,136.6 1644.2,141.3 1646.2,152.3 1647.8,172.6 1650.1,183.6 1652.5,193.0 1654.5,208.7 1657.2,216.5 1660.3,225.9 1664.2,233.7 1668.1,246.2 1672.0,247.8 1675.2,250.2 1677.5,254.1 1679.9,249.4 1681.4,250.2 1683.8,258.0 1687.7,256.4 1691.6,261.9 1694.0,265.0 1696.3,261.1 1698.7,262.7 1701.8,258.8 1705.7,258.0 1709.6,264.2 1712.8,269.7 1715.9,267.4 1719.8,274.4 1722.9,276.8 1726.0,271.0 1730.0,268.0 1732.1,262.4 1734.2,266.6 1736.3,265.3 1738.4,264.8 1740.5,268.4 1742.7,266.2 1744.8,265.3 1746.9,270.5 1749.0,264.8 1751.1,262.8 1753.2,262.6 1755.3,264.7 1757.4,267.6 1759.5,268.1 1761.6,268.8 1763.7,270.6 1765.8,270.3 1767.9,267.7 1770.1,269.4 1772.2,267.7 1774.3,264.7 1776.4,268.2 1778.5,266.3 1780.6,265.6 1782.7,271.0 1784.8,268.1 1786.9,264.9 1789.0,265.9 1791.1,271.0 1793.2,265.5 1795.3,268.0 1797.4,267.7 1799.6,267.4 1801.7,267.6 1803.8,264.9 1805.9,265.0 1808.0,265.7 1810.1,265.2 1812.2,268.2 1814.3,270.0 1816.4,263.9 1818.5,267.5 1820.6,263.7 1822.7,264.4 1824.8,265.5 1827.0,266.4 1829.1,265.0 1831.2,261.0 1833.3,269.6 1835.4,265.5 1837.5,264.5 1839.6,267.9 1841.7,264.6 1843.8,262.5 1845.9,267.4 1848.0,267.2 1850.1,264.0 1852.2,268.3 1854.4,267.1 1856.5,263.3 1858.6,270.6 1860.7,266.8 1862.8,263.3 1864.9,267.3 1867.0,266.5 1869.1,268.6 1871.2,262.7 1873.3,268.8 1875.4,268.5 1877.5,267.9 1879.6,267.7 1881.7,269.5 1883.9,268.0 1886.0,266.5 1888.1,264.0 1890.2,269.0 1892.3,268.6 1894.4,266.9 1896.5,266.5 1898.6,268.0 1900.7,261.0 1902.8,266.9 1904.9,261.0 1907.0,266.7 1909.1,268.8 1911.3,270.9 1913.4,264.9 1915.5,267.2 1917.6,265.9 1919.7,261.0 1921.8,268.0 1923.9,266.1 1926.0,266.3 1928.1,263.7 1930.2,266.0 1932.3,266.3 1934.4,269.4 1936.5,266.9 1938.7,271.0 1940.8,265.1 1942.9,265.5 1945.0,266.0 1947.1,264.1 1949.2,270.0 1951.3,267.8 1953.4,262.9 1955.5,266.4 1957.6,269.0 1959.7,262.5 1961.8,266.5 1963.9,265.5 1966.0,271.0 1968.2,267.2 1970.3,265.1 1972.4,264.7 1974.5,270.9 1976.6,264.9 1978.7,271.0 1980.8,262.2" fill="none" stroke="#2360ad" stroke-width="1.7" stroke-linejoin="round" stroke-linecap="butt"/>
<polyline points="1450.5,268.7 1452.6,270.6 1454.7,263.4 1456.8,263.0 1458.9,267.3 1461.0,272.1 1463.2,267.5 1465.3,262.1 1467.4,263.4 1469.5,265.9 1471.6,269.4 1473.7,266.1 1475.8,264.9 1477.9,265.3 1480.0,266.7 1482.1,263.6 1484.2,266.1 1486.3,267.0 1488.5,271.7 1490.6,265.9 1492.7,269.4 1494.8,262.6 1496.9,269.1 1499.0,266.7 1501.1,264.3 1503.2,266.0 1505.3,269.2 1507.4,265.0 1509.5,269.6 1511.6,271.3 1513.8,271.7 1515.9,271.7 1518.0,261.8 1520.1,267.3 1522.2,263.8 1524.3,269.4 1526.4,266.4 1528.5,266.9 1530.6,267.7 1532.7,264.1 1534.8,266.5 1537.0,263.6 1539.1,273.3 1541.2,264.6 1543.3,266.2 1545.4,260.1 1547.5,261.1 1549.6,263.2 1551.7,268.9 1553.8,268.8 1555.9,267.1 1558.0,263.9 1560.1,272.5 1562.3,262.6 1564.4,263.2 1566.5,267.8 1568.6,262.7 1570.7,267.0 1572.8,269.5 1574.9,265.9 1577.0,267.5 1579.1,266.3 1581.2,263.8 1583.3,255.2 1585.4,261.9 1587.6,266.1 1589.7,260.5 1591.8,264.2 1593.9,266.8 1596.0,270.0 1600.0,285.2 1602.9,289.0 1604.8,308.4 1607.7,337.5 1609.3,343.3 1611.6,362.6 1614.5,385.9 1617.4,399.4 1619.9,405.2 1622.3,380.0 1624.8,374.2 1627.1,358.8 1628.7,360.7 1630.4,343.3 1632.0,327.8 1634.9,320.0 1637.8,316.2 1640.7,304.5 1643.6,292.9 1646.5,289.0 1649.4,275.5 1651.3,268.0 1654.8,266.6 1657.2,243.1 1659.2,222.7 1661.1,204.0 1662.6,185.2 1665.0,164.8 1668.1,146.0 1670.5,139.8 1672.8,129.6 1674.9,141.3 1677.0,157.0 1679.9,158.5 1681.4,171.1 1683.5,188.3 1685.3,211.8 1687.7,215.7 1690.0,221.2 1692.4,232.1 1694.0,224.3 1695.8,235.3 1697.9,240.0 1701.0,246.2 1704.1,250.9 1708.0,255.6 1712.0,262.0 1716.0,258.0 1720.0,266.0 1724.0,262.0 1728.0,268.0 1732.3,243.1 1735.0,262.0 1739.0,268.0 1741.1,268.7 1743.2,265.3 1745.4,278.0 1747.5,268.7 1749.6,267.0 1751.7,268.3 1753.8,263.3 1756.0,262.3 1758.1,268.8 1760.2,263.7 1762.3,270.2 1764.4,264.9 1766.6,256.7 1768.7,259.1 1770.8,261.5 1772.9,255.6 1775.1,265.6 1777.2,264.5 1779.3,270.9 1781.4,261.5 1783.5,264.8 1785.7,269.0 1787.8,269.9 1789.9,260.6 1792.0,274.0 1794.1,262.7 1796.3,272.3 1798.4,264.4 1800.5,263.8 1802.6,259.5 1804.7,265.3 1806.9,278.0 1809.0,262.7 1811.1,274.1 1813.2,273.0 1815.4,264.0 1817.5,271.9 1819.6,273.3 1821.7,264.4 1823.8,263.2 1826.0,271.9 1828.1,267.9 1830.2,277.1 1832.3,268.3 1834.4,260.0 1836.6,265.8 1838.7,259.8 1840.8,270.0 1842.9,269.7 1845.0,263.9 1847.2,261.4 1849.3,270.7 1851.4,264.0 1853.5,272.4 1855.7,260.9 1857.8,264.6 1859.9,263.2 1862.0,260.6 1864.1,278.0 1866.3,274.8 1868.4,262.7 1870.5,270.2 1872.6,256.6 1874.7,272.6 1876.9,271.7 1879.0,264.2 1881.1,264.2 1883.2,267.3 1885.4,268.4 1887.5,264.1 1889.6,261.6 1891.7,264.7 1893.8,263.8 1896.0,270.1 1898.1,266.5 1900.2,267.3 1902.3,257.3 1904.4,264.0 1906.6,264.0 1908.7,263.3 1910.8,265.4 1912.9,264.5 1915.0,258.1 1917.2,271.0 1919.3,270.9 1921.4,263.4 1923.5,269.3 1925.7,261.2 1927.8,259.4 1929.9,265.0 1932.0,274.2 1934.1,265.5 1936.3,258.1 1938.4,267.4 1940.5,263.1 1942.6,262.3 1944.7,268.0 1946.9,257.0 1949.0,256.7 1951.1,258.5 1953.2,271.8 1955.3,266.7 1957.5,263.0 1959.6,262.6 1961.7,269.6 1963.8,272.8 1966.0,262.4 1968.1,267.6 1970.2,278.0 1972.3,269.4 1974.4,264.5 1976.6,268.0 1978.7,266.8 1980.8,269.8" fill="none" stroke="#b94615" stroke-width="1.7" stroke-linejoin="round" stroke-linecap="butt"/>
<polyline points="1450.5,285.0 1452.6,263.4 1454.7,261.5 1456.8,244.3 1458.9,271.3 1461.0,265.6 1463.1,285.0 1465.2,274.0 1467.3,278.8 1469.4,283.1 1471.6,262.3 1473.7,267.1 1475.8,238.5 1477.9,268.6 1480.0,246.2 1482.1,297.7 1484.2,262.3 1486.3,267.5 1488.4,278.3 1490.5,261.1 1492.6,269.7 1494.7,277.0 1496.8,244.6 1498.9,290.3 1501.0,268.2 1503.1,274.8 1505.2,251.9 1507.3,257.7 1509.5,274.9 1511.6,286.0 1513.7,260.3 1515.8,265.0 1517.9,296.0 1520.0,246.5 1522.1,286.8 1524.2,270.0 1526.3,278.8 1528.4,252.1 1530.5,270.6 1532.6,288.7 1534.7,264.9 1536.8,257.5 1538.9,260.2 1541.0,258.9 1543.1,277.4 1545.2,269.0 1547.4,259.4 1549.5,277.3 1551.6,251.1 1553.7,246.3 1555.8,296.0 1557.9,257.4 1560.0,288.9 1562.1,265.1 1564.2,263.2 1566.3,273.6 1568.4,254.4 1570.5,254.5 1572.6,263.4 1574.7,260.9 1576.8,276.3 1578.9,282.7 1581.0,246.0 1583.1,263.0 1585.3,276.8 1587.4,273.4 1589.5,281.9 1591.6,255.9 1593.7,274.6 1595.8,265.5 1597.9,243.6 1600.0,262.0 1602.0,276.0 1605.8,279.4 1608.7,298.7 1611.6,318.1 1615.5,322.0 1619.4,339.4 1622.3,337.5 1624.6,351.0 1626.7,318.1 1629.0,345.2 1632.0,304.5 1634.9,308.4 1637.8,276.5 1639.7,312.3 1642.6,294.9 1645.5,298.7 1648.4,277.4 1651.7,265.0 1654.0,276.0 1657.2,251.0 1659.5,260.3 1662.6,235.3 1666.1,204.0 1668.4,225.9 1672.3,208.7 1675.2,185.2 1677.5,176.6 1679.9,194.6 1682.2,216.5 1685.3,232.1 1687.4,219.6 1689.6,254.1 1691.6,232.1 1694.0,250.9 1696.3,247.8 1700.2,235.3 1702.1,265.0 1706.5,260.3 1709.6,247.8 1712.0,270.0 1715.0,255.0 1718.0,275.0 1721.0,258.0 1724.0,272.0 1726.1,274.6 1728.2,270.5 1730.4,256.2 1732.5,294.4 1734.6,243.7 1736.7,266.5 1738.9,279.5 1741.0,221.0 1743.1,277.5 1745.2,251.8 1747.3,293.2 1749.5,256.1 1751.6,261.8 1753.7,292.7 1755.8,262.1 1758.0,258.7 1760.1,288.6 1762.2,267.3 1764.3,280.7 1766.4,243.8 1768.6,275.0 1770.7,263.3 1772.8,272.2 1774.9,269.5 1777.1,272.8 1779.2,265.0 1781.3,267.5 1783.4,271.6 1785.5,236.8 1787.7,271.0 1789.8,261.0 1791.9,273.7 1794.0,236.8 1796.2,285.4 1798.3,278.7 1800.4,288.3 1802.5,264.7 1804.6,251.1 1806.8,305.2 1808.9,254.6 1811.0,257.4 1813.1,267.8 1815.3,236.8 1817.4,266.5 1819.5,292.7 1821.6,274.1 1823.7,261.2 1825.9,268.4 1828.0,240.6 1830.1,269.7 1832.2,245.5 1834.4,273.3 1836.5,270.2 1838.6,268.7 1840.7,263.7 1842.8,262.3 1845.0,261.6 1847.1,279.1 1849.2,267.3 1851.3,269.6 1853.5,296.0 1855.6,267.5 1857.7,253.0 1859.8,247.4 1861.9,290.2 1864.1,263.3 1866.2,278.6 1868.3,251.2 1870.4,249.5 1872.6,270.6 1874.7,226.8 1876.8,278.6 1878.9,264.4 1881.0,256.9 1883.2,275.8 1885.3,252.5 1887.4,251.9 1889.5,283.4 1891.7,233.5 1893.8,267.8 1895.9,266.0 1898.0,262.6 1900.2,291.0 1902.3,265.2 1904.4,236.0 1906.5,245.7 1908.6,268.3 1910.8,254.0 1912.9,296.0 1915.0,259.5 1917.1,287.7 1919.3,263.5 1921.4,262.5 1923.5,274.1 1925.6,237.7 1927.7,264.7 1929.9,296.0 1932.0,246.5 1934.1,271.9 1936.2,289.6 1938.4,252.1 1940.5,257.9 1942.6,277.4 1944.7,258.5 1946.8,267.6 1949.0,262.6 1951.1,274.7 1953.2,264.1 1955.3,294.9 1957.5,266.7 1959.6,262.3 1961.7,258.9 1963.8,244.3 1965.9,262.5 1968.1,275.2 1970.2,276.4 1972.3,223.5 1974.4,266.7 1976.6,267.9 1978.7,276.0 1980.8,249.3" fill="none" stroke="#dbae35" stroke-width="2.1" stroke-linejoin="round" stroke-linecap="butt"/>
<polyline points="1450.5,259.1 1452.6,272.4 1454.7,280.5 1456.9,290.9 1459.0,248.4 1461.1,256.6 1463.2,253.9 1465.3,260.0 1467.4,291.8 1469.6,253.7 1471.7,269.7 1473.8,247.2 1475.9,273.4 1478.0,254.2 1480.2,270.2 1482.3,272.1 1484.4,264.7 1486.5,256.6 1488.6,287.5 1490.8,245.2 1492.9,279.7 1495.0,265.3 1497.1,298.5 1499.2,263.8 1501.3,270.9 1503.5,258.4 1505.6,262.9 1507.7,245.1 1509.8,279.7 1511.9,279.7 1514.1,286.5 1516.2,286.2 1518.3,261.8 1520.4,248.5 1522.5,266.4 1524.7,290.2 1526.8,255.9 1528.9,253.8 1531.0,277.3 1533.1,290.8 1535.2,272.4 1537.4,244.0 1539.5,266.6 1541.6,292.7 1543.7,254.0 1545.8,276.6 1548.0,253.0 1550.1,262.3 1552.2,292.7 1554.3,262.5 1556.4,245.7 1558.5,271.4 1560.7,246.8 1562.8,275.7 1564.9,240.0 1567.0,259.4 1569.1,259.5 1571.3,287.7 1573.4,261.0 1575.5,293.5 1577.6,274.4 1579.7,272.4 1581.9,281.3 1584.0,250.6 1586.1,280.8 1588.2,278.1 1590.3,285.0 1592.4,285.6 1594.6,253.9 1596.7,248.1 1598.8,243.0 1601.0,282.0 1603.5,262.0 1606.0,285.0 1608.0,244.0 1610.5,272.0 1612.6,269.7 1615.5,300.7 1617.8,289.0 1619.9,318.1 1622.3,337.5 1624.8,301.6 1627.1,310.3 1630.0,337.5 1632.5,347.1 1634.9,341.3 1636.8,320.0 1639.1,372.9 1641.2,318.1 1644.2,291.0 1647.4,310.3 1650.0,285.2 1651.9,281.3 1654.2,294.9 1657.1,271.6 1660.0,285.2 1661.6,263.9 1663.9,298.7 1666.8,263.9 1668.9,272.9 1670.5,273.6 1672.0,258.8 1674.4,235.3 1677.2,213.4 1679.5,234.5 1682.2,211.8 1685.3,194.6 1689.3,196.1 1694.0,178.9 1695.5,211.8 1696.8,240.0 1699.4,232.1 1702.1,207.9 1704.4,235.3 1706.5,208.7 1708.8,243.1 1711.2,233.7 1713.5,247.8 1717.4,240.0 1719.0,258.8 1720.9,249.4 1723.7,274.4 1726.1,235.3 1730.0,263.5 1732.1,264.3 1734.2,263.9 1736.3,264.7 1738.4,274.4 1740.5,264.5 1742.7,248.0 1744.8,270.0 1746.9,262.8 1749.0,263.4 1751.1,267.4 1753.2,271.4 1755.3,239.3 1757.4,273.9 1759.5,267.3 1761.6,257.1 1763.7,253.8 1765.8,263.4 1767.9,293.5 1770.1,262.1 1772.2,264.7 1774.3,272.4 1776.4,248.6 1778.5,262.3 1780.6,271.9 1782.7,276.5 1784.8,268.4 1786.9,240.2 1789.0,271.4 1791.1,275.4 1793.2,252.6 1795.3,266.5 1797.4,285.2 1799.6,248.1 1801.7,258.7 1803.8,255.0 1805.9,276.5 1808.0,273.7 1810.1,241.0 1812.2,274.8 1814.3,254.0 1816.4,265.0 1818.5,262.5 1820.6,267.4 1822.7,275.8 1824.8,273.7 1827.0,270.2 1829.1,273.8 1831.2,271.7 1833.3,258.5 1835.4,257.4 1837.5,257.6 1839.6,303.5 1841.7,258.9 1843.8,294.0 1845.9,256.2 1848.0,252.8 1850.1,275.2 1852.2,283.1 1854.4,272.1 1856.5,276.0 1858.6,283.1 1860.7,264.9 1862.8,248.9 1864.9,260.4 1867.0,281.8 1869.1,255.0 1871.2,266.4 1873.3,269.0 1875.4,262.2 1877.5,274.7 1879.6,272.2 1881.7,247.7 1883.9,272.5 1886.0,258.7 1888.1,259.3 1890.2,256.0 1892.3,274.7 1894.4,246.0 1896.5,268.6 1898.6,275.0 1900.7,257.3 1902.8,262.5 1904.9,243.9 1907.0,253.0 1909.1,259.2 1911.3,271.0 1913.4,280.3 1915.5,265.8 1917.6,269.1 1919.7,268.0 1921.8,265.6 1923.9,311.8 1926.0,260.8 1928.1,253.9 1930.2,276.8 1932.3,270.6 1934.4,280.7 1936.5,268.8 1938.7,253.6 1940.8,281.8 1942.9,273.2 1945.0,267.4 1947.1,259.8 1949.2,257.0 1951.3,281.0 1953.4,272.3 1955.5,275.8 1957.6,274.3 1959.7,237.5 1961.8,274.5 1963.9,272.7 1966.0,259.4 1968.2,258.5 1970.3,271.2 1972.4,231.0 1974.5,264.9 1976.6,260.6 1978.7,285.2 1980.8,260.4" fill="none" stroke="#571c88" stroke-width="1.9" stroke-linejoin="round" stroke-linecap="butt"/>
<polyline points="1450.5,266.3 1452.6,274.3 1454.7,272.8 1456.8,277.1 1458.9,267.0 1461.0,274.8 1463.1,272.3 1465.2,262.9 1467.3,277.1 1469.4,263.7 1471.6,256.6 1473.7,263.1 1475.8,260.3 1477.9,262.6 1480.0,273.1 1482.1,265.9 1484.2,279.6 1486.3,264.6 1488.4,271.3 1490.5,267.0 1492.6,253.3 1494.7,267.8 1496.8,270.3 1498.9,274.7 1501.0,257.7 1503.1,275.1 1505.2,276.6 1507.3,260.7 1509.5,270.1 1511.6,277.1 1513.7,253.7 1515.8,271.1 1517.9,251.0 1520.0,268.8 1522.1,279.0 1524.2,264.9 1526.3,272.0 1528.4,254.5 1530.5,262.4 1532.6,263.6 1534.7,273.8 1536.8,265.3 1538.9,273.4 1541.0,266.8 1543.1,262.0 1545.2,268.4 1547.4,269.3 1549.5,265.2 1551.6,273.3 1553.7,261.0 1555.8,268.9 1557.9,271.9 1560.0,262.7 1562.1,267.1 1564.2,266.8 1566.3,255.9 1568.4,279.1 1570.5,264.5 1572.6,271.3 1574.7,251.0 1576.8,275.2 1578.9,261.8 1581.0,257.7 1583.1,263.9 1585.3,272.2 1587.4,251.3 1589.5,272.5 1591.6,254.3 1593.7,273.2 1595.8,267.3 1597.9,273.9 1600.0,266.6 1603.0,270.0 1606.3,261.9 1609.4,268.2 1613.3,258.0 1615.7,266.6 1618.8,258.8 1622.7,274.4 1625.8,266.6 1629.0,279.4 1632.9,274.5 1635.8,285.2 1638.7,276.5 1642.6,291.0 1645.5,283.2 1649.4,292.0 1653.3,285.2 1658.1,286.1 1662.0,267.7 1665.0,276.5 1668.9,271.6 1672.8,263.0 1675.9,277.0 1679.9,262.0 1683.8,267.0 1687.7,252.5 1690.8,258.8 1694.0,247.8 1696.3,250.9 1698.7,240.0 1701.8,249.4 1706.5,241.5 1709.6,250.9 1715.9,241.5 1719.0,260.3 1723.7,257.2 1728.4,266.6 1733.1,258.8 1737.0,268.0 1739.1,268.2 1741.2,265.7 1743.4,264.9 1745.5,258.6 1747.6,272.2 1749.7,263.6 1751.8,269.3 1754.0,264.1 1756.1,272.7 1758.2,265.8 1760.3,268.4 1762.4,271.5 1764.6,264.8 1766.7,264.7 1768.8,265.3 1770.9,266.6 1773.0,269.6 1775.2,267.7 1777.3,266.6 1779.4,271.2 1781.5,267.2 1783.6,259.4 1785.8,274.7 1787.9,255.1 1790.0,278.5 1792.1,256.3 1794.2,257.4 1796.4,261.6 1798.5,272.0 1800.6,260.5 1802.7,270.9 1804.8,272.1 1807.0,262.0 1809.1,265.2 1811.2,269.5 1813.3,268.3 1815.4,262.1 1817.6,254.8 1819.7,262.2 1821.8,260.3 1823.9,266.6 1826.0,266.1 1828.2,261.5 1830.3,259.4 1832.4,262.2 1834.5,267.1 1836.6,268.9 1838.8,268.9 1840.9,272.1 1843.0,272.4 1845.1,263.1 1847.2,273.7 1849.4,258.6 1851.5,269.5 1853.6,265.6 1855.7,254.7 1857.8,275.7 1860.0,279.3 1862.1,273.3 1864.2,256.4 1866.3,251.0 1868.4,270.7 1870.6,267.8 1872.7,261.6 1874.8,261.1 1876.9,254.3 1879.0,266.3 1881.2,252.1 1883.3,256.5 1885.4,264.2 1887.5,274.5 1889.6,270.4 1891.8,272.3 1893.9,274.3 1896.0,271.1 1898.1,262.4 1900.2,267.7 1902.4,266.8 1904.5,262.2 1906.6,265.6 1908.7,265.4 1910.8,257.1 1913.0,256.3 1915.1,266.0 1917.2,270.2 1919.3,271.8 1921.4,273.8 1923.6,268.3 1925.7,267.0 1927.8,262.4 1929.9,258.2 1932.0,251.0 1934.2,264.0 1936.3,270.0 1938.4,265.8 1940.5,278.3 1942.6,275.8 1944.8,271.5 1946.9,265.2 1949.0,276.9 1951.1,275.6 1953.2,257.8 1955.4,268.9 1957.5,273.7 1959.6,260.6 1961.7,278.1 1963.8,264.9 1966.0,269.8 1968.1,263.7 1970.2,267.5 1972.3,267.7 1974.4,276.0 1976.6,264.1 1978.7,269.7 1980.8,270.6" fill="none" stroke="#7fa13a" stroke-width="2.1" stroke-linejoin="round" stroke-linecap="butt"/>
<rect x="1803.30" y="66.30" width="167.70" height="138.90" fill="#fff" stroke="#8a8a8a" stroke-width="1.05"/>
<line x1="1808.00" y1="81.80" x2="1844.30" y2="81.80" stroke="#2360ad" stroke-width="1.8"/>
<text class="t" transform="translate(1848.29,90.00) scale(1.0406,1)" font-size="21.2" font-weight="normal" fill="#141414">Non-fibrotic</text>
<line x1="1808.00" y1="108.50" x2="1844.30" y2="108.50" stroke="#b94615" stroke-width="1.8"/>
<text class="t" transform="translate(1848.21,117.50) scale(1.0484,1)" font-size="21.2" font-weight="normal" fill="#141414">10%</text>
<line x1="1808.00" y1="135.80" x2="1844.30" y2="135.80" stroke="#dbae35" stroke-width="1.8"/>
<text class="t" transform="translate(1848.79,143.70) scale(1.0416,1)" font-size="21.2" font-weight="normal" fill="#141414">20%</text>
<line x1="1808.00" y1="162.00" x2="1844.30" y2="162.00" stroke="#571c88" stroke-width="1.8"/>
<text class="t" transform="translate(1849.40,171.20) scale(1.0270,1)" font-size="21.2" font-weight="normal" fill="#141414">40%</text>
<line x1="1808.00" y1="189.70" x2="1844.30" y2="189.70" stroke="#7fa13a" stroke-width="1.8"/>
<text class="t" transform="translate(1848.78,197.70) scale(1.0419,1)" font-size="21.2" font-weight="normal" fill="#141414">60%</text>
<text transform="translate(1349.49,40.00) scale(0.9698,1)" font-size="34.0" font-weight="bold" fill="#000">E</text>
<line x1="1461.80" y1="564.70" x2="1461.80" y2="985.50" stroke="#8c8c8c" stroke-width="1.4"/>
<line x1="1461.20" y1="984.90" x2="1993.40" y2="984.90" stroke="#8c8c8c" stroke-width="1.3"/>
<line x1="1461.80" y1="587.68" x2="1466.80" y2="587.68" stroke="#8c8c8c" stroke-width="0.95"/>
<text class="t" transform="translate(1419.16,597.28) scale(1.0200,1)" font-size="23.4" font-weight="normal" fill="#141414">0.8</text>
<line x1="1461.80" y1="634.01" x2="1466.80" y2="634.01" stroke="#8c8c8c" stroke-width="0.95"/>
<text class="t" transform="translate(1419.17,643.61) scale(1.0200,1)" font-size="23.4" font-weight="normal" fill="#141414">0.6</text>
<line x1="1461.80" y1="680.34" x2="1466.80" y2="680.34" stroke="#8c8c8c" stroke-width="0.95"/>
<text class="t" transform="translate(1418.82,689.94) scale(1.0200,1)" font-size="23.4" font-weight="normal" fill="#141414">0.4</text>
<line x1="1461.80" y1="726.67" x2="1466.80" y2="726.67" stroke="#8c8c8c" stroke-width="0.95"/>
<text class="t" transform="translate(1419.32,736.27) scale(1.0200,1)" font-size="23.4" font-weight="normal" fill="#141414">0.2</text>
<line x1="1461.80" y1="773.00" x2="1466.80" y2="773.00" stroke="#8c8c8c" stroke-width="0.95"/>
<text class="t" transform="translate(1438.96,782.60) scale(1.0200,1)" font-size="23.4" font-weight="normal" fill="#141414">0</text>
<line x1="1461.80" y1="819.33" x2="1466.80" y2="819.33" stroke="#8c8c8c" stroke-width="0.95"/>
<text class="t" transform="translate(1411.37,828.93) scale(1.0200,1)" font-size="23.4" font-weight="normal" fill="#141414">-0.2</text>
<line x1="1461.80" y1="865.66" x2="1466.80" y2="865.66" stroke="#8c8c8c" stroke-width="0.95"/>
<text class="t" transform="translate(1410.87,875.26) scale(1.0200,1)" font-size="23.4" font-weight="normal" fill="#141414">-0.4</text>
<line x1="1461.80" y1="911.99" x2="1466.80" y2="911.99" stroke="#8c8c8c" stroke-width="0.95"/>
<text class="t" transform="translate(1411.22,921.59) scale(1.0200,1)" font-size="23.4" font-weight="normal" fill="#141414">-0.6</text>
<line x1="1461.80" y1="958.32" x2="1466.80" y2="958.32" stroke="#8c8c8c" stroke-width="0.95"/>
<text class="t" transform="translate(1411.21,967.92) scale(1.0200,1)" font-size="23.4" font-weight="normal" fill="#141414">-0.8</text>
<line x1="1464.60" y1="984.90" x2="1464.60" y2="978.90" stroke="#8c8c8c" stroke-width="0.95"/>
<text class="t" transform="translate(1456.46,1016.50) scale(1.0200,1)" font-size="23.4" font-weight="normal" fill="#141414">0</text>
<line x1="1569.90" y1="984.90" x2="1569.90" y2="978.90" stroke="#8c8c8c" stroke-width="0.95"/>
<text class="t" transform="translate(1556.33,1026.80) scale(1.0200,1)" font-size="23.4" font-weight="normal" fill="#141414">25</text>
<line x1="1675.00" y1="984.90" x2="1675.00" y2="978.90" stroke="#8c8c8c" stroke-width="0.95"/>
<text class="t" transform="translate(1662.71,1023.40) scale(1.0200,1)" font-size="23.4" font-weight="normal" fill="#141414">50</text>
<line x1="1780.60" y1="984.90" x2="1780.60" y2="978.90" stroke="#8c8c8c" stroke-width="0.95"/>
<text class="t" transform="translate(1765.18,1023.80) scale(1.0200,1)" font-size="23.4" font-weight="normal" fill="#141414">125</text>
<line x1="1886.00" y1="984.90" x2="1886.00" y2="978.90" stroke="#8c8c8c" stroke-width="0.95"/>
<text class="t" transform="translate(1868.25,1026.40) scale(1.0200,1)" font-size="23.4" font-weight="normal" fill="#141414">100</text>
<line x1="1991.50" y1="984.90" x2="1991.50" y2="978.90" stroke="#8c8c8c" stroke-width="0.95"/>
<text class="t" transform="translate(1960.19,1023.80) scale(1.0200,1)" font-size="23.4" font-weight="normal" fill="#141414">225</text>
<polyline points="1462.2,770.8 1464.3,773.3 1466.4,772.6 1468.6,772.3 1470.7,774.5 1472.8,773.1 1474.9,772.6 1477.0,775.7 1479.2,772.3 1481.3,771.1 1483.4,770.9 1485.5,772.2 1487.6,774.0 1489.8,774.3 1491.9,774.7 1494.0,775.8 1496.1,775.6 1498.2,774.0 1500.4,775.0 1502.5,774.0 1504.6,772.2 1506.7,774.3 1508.8,773.2 1511.0,772.8 1513.1,776.1 1515.2,774.2 1517.3,772.3 1519.4,773.0 1521.6,776.6 1523.7,772.7 1525.8,774.2 1527.9,774.0 1530.0,773.9 1532.2,774.0 1534.3,772.4 1536.4,772.4 1538.5,772.8 1540.6,772.5 1542.8,774.3 1544.9,775.4 1547.0,771.7 1549.1,773.9 1551.2,771.6 1553.4,772.0 1555.5,772.7 1557.6,773.2 1559.7,772.4 1561.8,769.1 1564.0,775.2 1566.1,772.7 1568.2,772.1 1570.3,774.1 1572.4,772.2 1574.6,770.9 1576.7,773.8 1578.8,773.7 1580.9,771.8 1583.0,774.4 1585.2,773.7 1587.3,771.4 1589.4,775.7 1591.5,773.5 1593.6,771.4 1595.8,773.8 1597.9,773.3 1600.0,774.0 1605.0,772.0 1611.6,775.8 1619.4,779.7 1622.3,799.0 1624.2,828.1 1626.1,866.8 1628.1,905.6 1630.0,944.3 1632.3,967.5 1634.9,944.3 1637.8,915.2 1640.7,886.2 1643.0,857.1 1644.5,808.7 1645.5,775.0 1646.3,745.3 1647.6,706.1 1649.1,679.5 1650.4,659.1 1651.5,645.0 1653.5,641.9 1655.7,646.6 1657.8,657.6 1660.1,671.7 1662.9,688.9 1664.8,704.6 1666.4,712.4 1668.7,717.1 1670.3,728.0 1672.6,735.9 1675.8,743.7 1678.9,750.0 1681.7,753.9 1683.6,751.5 1686.7,757.8 1689.1,759.4 1691.4,757.8 1694.6,762.5 1698.5,761.7 1702.4,767.2 1706.3,771.9 1710.2,768.0 1713.4,775.0 1717.3,767.2 1722.7,776.6 1725.9,774.2 1729.8,774.2 1734.5,785.7 1737.6,775.0 1743.1,772.7" fill="none" stroke="#2360ad" stroke-width="1.7" stroke-linejoin="round" stroke-linecap="butt"/>
<polyline points="1462.2,796.0 1464.3,775.3 1466.4,742.7 1468.6,781.2 1470.7,769.8 1472.8,793.4 1474.9,738.5 1477.0,773.1 1479.2,780.5 1481.3,766.7 1483.4,784.5 1485.5,770.0 1487.6,747.8 1489.8,758.4 1491.9,794.2 1494.0,750.2 1496.1,775.9 1498.2,768.9 1500.4,786.2 1502.5,760.8 1504.6,769.7 1506.7,781.1 1508.8,783.5 1511.0,762.6 1513.1,794.3 1515.2,765.4 1517.3,785.3 1519.4,747.7 1521.6,773.8 1523.7,755.4 1525.8,771.2 1527.9,803.0 1530.0,764.9 1532.2,796.8 1534.3,778.8 1536.4,767.5 1538.5,788.8 1540.6,792.7 1542.8,768.7 1544.9,765.5 1547.0,788.8 1549.1,777.8 1551.2,757.7 1553.4,778.4 1555.5,762.3 1557.6,790.2 1559.7,762.1 1561.8,783.7 1564.0,783.0 1566.1,774.7 1568.2,752.1 1570.3,810.2 1572.4,764.8 1574.6,784.4 1576.7,755.2 1578.8,773.7 1580.9,764.0 1583.0,807.7 1585.2,782.8 1587.3,796.9 1589.4,764.2 1591.5,784.3 1593.6,747.5 1595.8,787.3 1597.9,736.8 1600.0,781.6 1602.9,775.8 1605.4,800.0 1608.1,777.7 1611.2,814.5 1615.5,799.0 1619.9,819.4 1622.3,811.6 1624.2,826.2 1626.7,800.0 1630.0,821.3 1632.9,854.2 1634.9,841.7 1637.2,855.2 1641.1,829.1 1643.6,836.8 1646.1,806.8 1649.4,808.7 1652.3,818.4 1655.6,781.6 1657.7,795.2 1660.4,782.6 1662.9,797.1 1664.5,785.0 1666.4,745.3 1668.7,767.2 1671.1,771.1 1672.6,756.2 1675.8,742.1 1678.9,724.9 1681.3,718.7 1682.8,720.2 1684.1,698.3 1685.3,668.9 1686.7,693.6 1688.0,709.3 1689.9,715.5 1691.7,718.7 1694.1,707.7 1696.4,749.2 1698.6,720.2 1702.4,756.2 1704.7,732.7 1706.8,718.7 1709.4,745.3 1711.0,743.7 1713.0,776.6 1714.9,745.3 1718.0,750.0 1720.4,757.8 1723.5,777.4 1726.7,756.2 1729.8,768.0 1733.8,734.3 1736.5,770.3 1738.0,728.5 1740.8,760.9 1742.3,773.5 1744.7,740.2 1747.0,768.8 1750.5,746.0 1752.6,802.3 1754.7,758.0 1756.8,777.4 1759.0,769.5 1761.1,761.1 1763.2,765.3 1765.3,766.0 1767.4,771.7 1769.5,778.2 1771.7,786.7 1773.8,778.5 1775.9,745.2 1778.0,780.0 1780.1,773.9 1782.2,769.5 1784.4,761.3 1786.5,805.2 1788.6,767.3 1790.7,770.1 1792.8,776.6 1794.9,772.0 1797.0,791.8 1799.2,765.0 1801.3,768.2 1803.4,752.7 1805.5,774.9 1807.6,773.8 1809.7,769.4 1811.9,754.0 1814.0,771.5 1816.1,770.7 1818.2,778.3 1820.3,751.8 1822.4,771.9 1824.5,791.8 1826.7,766.2 1828.8,767.6 1830.9,766.7 1833.0,792.7 1835.1,775.4 1837.2,776.6 1839.4,764.8 1841.5,777.6 1843.6,777.0 1845.7,774.1 1847.8,792.0 1849.9,739.7 1852.1,772.5 1854.2,772.5 1856.3,755.2 1858.4,774.3 1860.5,784.2 1862.6,775.9 1864.7,761.9 1866.9,791.0 1869.0,769.8 1871.1,796.0 1873.2,769.3 1875.3,758.2 1877.4,801.0 1879.6,754.3 1881.7,771.6 1883.8,754.0 1885.9,766.9 1888.0,791.2 1890.1,803.0 1892.2,786.2 1894.4,777.8 1896.5,797.3 1898.6,777.5 1900.7,755.2 1902.8,760.5 1904.9,815.2 1907.1,751.7 1909.2,761.9 1911.3,746.8 1913.4,776.9 1915.5,760.6 1917.6,786.0 1919.8,770.9 1921.9,776.7 1924.0,754.3 1926.1,771.4 1928.2,774.9 1930.3,803.0 1932.4,759.6 1934.6,777.5 1936.7,747.7 1938.8,772.7 1940.9,771.5 1943.0,758.7 1945.1,789.3 1947.3,770.4 1949.4,787.1 1951.5,782.2 1953.6,751.3 1955.7,765.3 1957.8,809.3 1959.9,773.1 1962.1,746.6 1964.2,767.7 1966.3,763.7 1968.4,784.8 1970.5,762.0 1972.6,792.3 1974.8,766.3 1976.9,769.1 1979.0,784.2 1981.1,743.0 1983.2,763.5 1985.3,822.7 1987.5,771.4 1989.6,745.7 1991.7,774.0 1993.8,800.2" fill="none" stroke="#b94615" stroke-width="1.95" stroke-linejoin="round" stroke-linecap="butt"/>
<polyline points="1462.2,779.1 1464.3,776.2 1466.4,766.0 1468.6,793.0 1470.7,757.0 1472.8,773.4 1474.9,782.6 1477.0,778.8 1479.2,757.7 1481.3,770.2 1483.4,780.3 1485.5,750.2 1487.6,775.4 1489.8,773.3 1491.9,773.2 1494.0,767.8 1496.1,789.2 1498.2,774.0 1500.4,783.5 1502.5,757.1 1504.6,779.4 1506.7,769.8 1508.8,787.7 1511.0,772.0 1513.1,777.8 1515.2,775.1 1517.3,756.8 1519.4,776.3 1521.6,772.1 1523.7,787.7 1525.8,769.0 1527.9,777.8 1530.0,764.6 1532.2,793.0 1534.3,782.1 1536.4,788.9 1538.5,772.1 1540.6,760.1 1542.8,757.8 1544.9,765.1 1547.0,766.8 1549.1,769.2 1551.2,769.4 1553.4,779.6 1555.5,765.1 1557.6,759.3 1559.7,773.4 1561.8,774.7 1564.0,754.9 1566.1,775.7 1568.2,758.3 1570.3,778.2 1572.4,776.0 1574.6,774.9 1576.7,771.3 1578.8,770.3 1580.9,769.8 1583.0,782.3 1585.2,776.5 1587.3,752.7 1589.4,786.0 1591.5,774.0 1593.6,763.7 1595.8,759.5 1597.9,796.0 1600.0,795.2 1602.9,773.9 1605.8,781.6 1608.7,770.0 1612.6,779.7 1617.4,787.4 1621.3,785.5 1624.2,795.2 1626.1,832.0 1628.7,833.9 1631.0,851.3 1633.3,874.6 1634.9,890.1 1637.8,890.1 1640.7,878.4 1643.6,847.5 1645.7,866.8 1647.4,837.8 1649.4,842.6 1651.9,816.5 1654.2,831.0 1657.1,812.6 1660.0,822.3 1662.0,804.9 1663.9,813.6 1666.8,789.4 1669.7,777.7 1672.6,760.9 1675.0,745.3 1677.3,729.6 1680.5,714.0 1683.6,701.4 1685.2,688.9 1687.0,692.0 1689.5,674.8 1691.7,684.2 1694.6,683.4 1696.4,688.9 1698.5,701.4 1700.5,712.4 1702.4,709.3 1704.7,721.8 1706.8,732.7 1708.7,759.4 1710.7,715.5 1713.4,734.3 1715.7,745.3 1718.8,753.1 1721.2,728.8 1723.1,753.1 1726.7,760.9 1729.8,745.3 1732.1,756.2 1736.8,773.5 1740.0,756.2 1744.7,781.8 1748.6,760.9 1750.7,760.2 1752.8,767.0 1754.9,776.3 1757.1,765.6 1759.2,760.8 1761.3,755.8 1763.4,778.4 1765.5,769.5 1767.6,772.5 1769.7,749.3 1771.9,766.6 1774.0,772.4 1776.1,762.3 1778.2,771.1 1780.3,786.3 1782.4,768.1 1784.5,770.3 1786.7,781.2 1788.8,769.7 1790.9,773.1 1793.0,760.3 1795.1,770.7 1797.2,754.0 1799.3,780.2 1801.4,784.5 1803.6,767.4 1805.7,770.9 1807.8,768.5 1809.9,793.0 1812.0,782.6 1814.1,771.5 1816.2,779.8 1818.4,786.3 1820.5,762.9 1822.6,779.3 1824.7,779.2 1826.8,773.4 1828.9,781.0 1831.0,785.2 1833.2,773.5 1835.3,769.6 1837.4,782.4 1839.5,774.9 1841.6,777.3 1843.7,759.0 1845.8,777.2 1847.9,772.8 1850.1,760.2 1852.2,777.0 1854.3,777.0 1856.4,779.4 1858.5,772.6 1860.6,795.2 1862.7,771.1 1864.9,774.9 1867.0,779.3 1869.1,766.7 1871.2,763.9 1873.3,763.7 1875.4,774.6 1877.5,756.0 1879.7,768.7 1881.8,771.6 1883.9,777.1 1886.0,757.7 1888.1,775.9 1890.2,773.9 1892.3,768.2 1894.5,774.2 1896.6,771.8 1898.7,762.6 1900.8,768.8 1902.9,791.8 1905.0,779.8 1907.1,771.2 1909.2,767.3 1911.4,759.2 1913.5,773.4 1915.6,777.2 1917.7,775.7 1919.8,757.7 1921.9,770.5 1924.0,762.8 1926.2,775.4 1928.3,767.0 1930.4,786.8 1932.5,780.0 1934.6,755.1 1936.7,771.0 1938.8,773.2 1941.0,758.6 1943.1,783.9 1945.2,770.9 1947.3,777.2 1949.4,779.2 1951.5,787.5 1953.6,767.1 1955.8,773.6 1957.9,750.2 1960.0,770.5 1962.1,791.4 1964.2,769.0 1966.3,756.3 1968.4,780.3 1970.5,791.0 1972.7,763.9 1974.8,773.0 1976.9,759.7 1979.0,753.6 1981.1,771.6 1983.2,764.7 1985.3,791.0 1987.5,770.6 1989.6,777.4 1991.7,771.3 1993.8,786.1" fill="none" stroke="#dbae35" stroke-width="2.2" stroke-linejoin="round" stroke-linecap="butt"/>
<polyline points="1462.2,772.3 1464.3,772.1 1466.4,772.4 1468.6,776.5 1470.7,772.4 1472.8,765.5 1474.9,774.7 1477.0,771.7 1479.2,771.9 1481.3,773.6 1483.4,774.2 1485.5,778.8 1487.6,776.3 1489.8,773.6 1491.9,769.3 1494.0,767.9 1496.1,774.2 1498.2,779.6 1500.4,773.2 1502.5,772.5 1504.6,775.7 1506.7,765.7 1508.8,771.4 1511.0,775.5 1513.1,777.4 1515.2,771.8 1517.3,774.9 1519.4,774.2 1521.6,776.9 1523.7,767.4 1525.8,775.8 1527.9,765.4 1530.0,762.0 1532.2,770.0 1534.3,768.4 1536.4,777.4 1538.5,776.3 1540.6,766.9 1542.8,777.2 1544.9,768.0 1547.0,772.6 1549.1,771.5 1551.2,773.6 1553.4,777.1 1555.5,776.2 1557.6,774.7 1559.7,776.2 1561.8,775.4 1564.0,769.9 1566.1,769.4 1568.2,770.7 1570.3,775.5 1572.4,771.7 1574.6,784.0 1576.7,768.9 1578.8,767.5 1580.9,776.8 1583.0,780.1 1585.2,775.5 1587.3,777.2 1589.4,780.1 1591.5,772.5 1593.6,765.9 1595.8,770.3 1597.9,777.8 1600.0,772.0 1604.0,776.0 1608.0,770.0 1611.6,764.8 1614.7,775.0 1617.8,779.7 1621.7,776.6 1624.7,765.2 1627.2,778.2 1629.6,774.2 1632.9,783.6 1635.8,780.5 1638.7,779.7 1642.1,785.2 1643.6,787.4 1648.4,794.2 1651.3,789.4 1654.2,794.2 1657.7,805.8 1660.4,795.2 1662.9,799.0 1667.8,778.7 1671.1,790.3 1676.5,775.8 1680.4,789.4 1683.6,776.6 1687.5,766.4 1692.2,786.0 1696.9,768.0 1700.0,778.2 1702.4,760.9 1707.1,748.4 1710.2,749.2 1713.4,760.9 1715.7,742.9 1719.6,746.1 1722.7,745.3 1725.6,742.1 1727.4,756.2 1729.8,748.4 1732.1,760.9 1735.3,757.8 1737.6,765.6 1740.8,767.2 1743.9,765.6 1747.0,768.8 1750.0,766.4 1753.0,777.7 1755.1,780.5 1757.2,774.9 1759.3,776.4 1761.5,777.4 1763.6,768.8 1765.7,765.2 1767.8,767.4 1769.9,774.7 1772.0,778.3 1774.1,773.6 1776.2,766.2 1778.4,780.0 1780.5,765.0 1782.6,770.6 1784.7,770.2 1786.8,774.3 1788.9,778.5 1791.0,765.5 1793.1,771.4 1795.2,774.6 1797.4,767.2 1799.5,772.5 1801.6,773.9 1803.7,766.3 1805.8,766.5 1807.9,772.7 1810.0,771.9 1812.1,774.1 1814.3,784.0 1816.4,777.5 1818.5,775.2 1820.6,769.4 1822.7,777.7 1824.8,769.1 1826.9,780.8 1829.0,778.9 1831.2,763.0 1833.3,767.1 1835.4,772.0 1837.5,771.0 1839.6,766.7 1841.7,766.9 1843.8,776.6 1845.9,770.3 1848.1,765.4 1850.2,771.6 1852.3,777.8 1854.4,781.4 1856.5,773.3 1858.6,771.4 1860.7,769.0 1862.8,770.4 1865.0,775.7 1867.1,779.3 1869.2,779.2 1871.3,771.8 1873.4,777.4 1875.5,776.8 1877.6,775.3 1879.7,762.0 1881.9,772.7 1884.0,771.6 1886.1,779.6 1888.2,771.6 1890.3,775.3 1892.4,774.3 1894.5,779.3 1896.6,776.8 1898.7,778.1 1900.9,780.5 1903.0,777.8 1905.1,776.9 1907.2,771.7 1909.3,773.5 1911.4,783.8 1913.5,773.2 1915.6,775.5 1917.8,772.6 1919.9,771.5 1922.0,762.0 1924.1,781.6 1926.2,767.1 1928.3,768.8 1930.4,779.8 1932.5,762.0 1934.7,773.1 1936.8,770.2 1938.9,763.8 1941.0,776.1 1943.1,769.1 1945.2,772.5 1947.3,770.9 1949.4,776.2 1951.6,784.0 1953.7,766.7 1955.8,777.3 1957.9,769.5 1960.0,771.2 1962.1,763.5 1964.2,767.3 1966.3,770.8 1968.5,777.1 1970.6,774.2 1972.7,775.9 1974.8,776.7 1976.9,766.1 1979.0,780.3 1981.1,771.4 1983.2,776.4 1985.4,772.1 1987.5,774.3 1989.6,776.2 1991.7,762.0 1993.8,783.1" fill="none" stroke="#571c88" stroke-width="2.05" stroke-linejoin="round" stroke-linecap="butt"/>
<rect x="1817.50" y="574.70" width="167.70" height="111.10" fill="#fff" stroke="#8a8a8a" stroke-width="1.05"/>
<line x1="1822.70" y1="590.70" x2="1858.80" y2="590.70" stroke="#2360ad" stroke-width="1.8"/>
<text class="t" transform="translate(1861.99,598.80) scale(1.0415,1)" font-size="21.2" font-weight="normal" fill="#141414">Non-fibrotic</text>
<line x1="1822.70" y1="617.00" x2="1858.80" y2="617.00" stroke="#b94615" stroke-width="1.8"/>
<text class="t" transform="translate(1861.93,625.50) scale(1.0489,1)" font-size="21.2" font-weight="normal" fill="#141414">0.5 mm</text>
<line x1="1822.70" y1="644.30" x2="1858.80" y2="644.30" stroke="#dbae35" stroke-width="1.8"/>
<text class="t" transform="translate(1862.23,652.50) scale(1.0343,1)" font-size="21.2" font-weight="normal" fill="#141414">1 mm</text>
<line x1="1822.70" y1="670.80" x2="1858.80" y2="670.80" stroke="#571c88" stroke-width="1.8"/>
<text class="t" transform="translate(1861.69,680.00) scale(1.0448,1)" font-size="21.2" font-weight="normal" fill="#141414">2 mm</text>
<text transform="translate(1350.80,543.00) scale(0.9682,1)" font-size="34.0" font-weight="bold" fill="#000">F</text>
<text transform="translate(1682.40,1069.00) scale(1.0030,1)" font-size="35.2" font-weight="bold" fill="#0a0a0a">Time (ms)</text>
</svg>
</body></html>
